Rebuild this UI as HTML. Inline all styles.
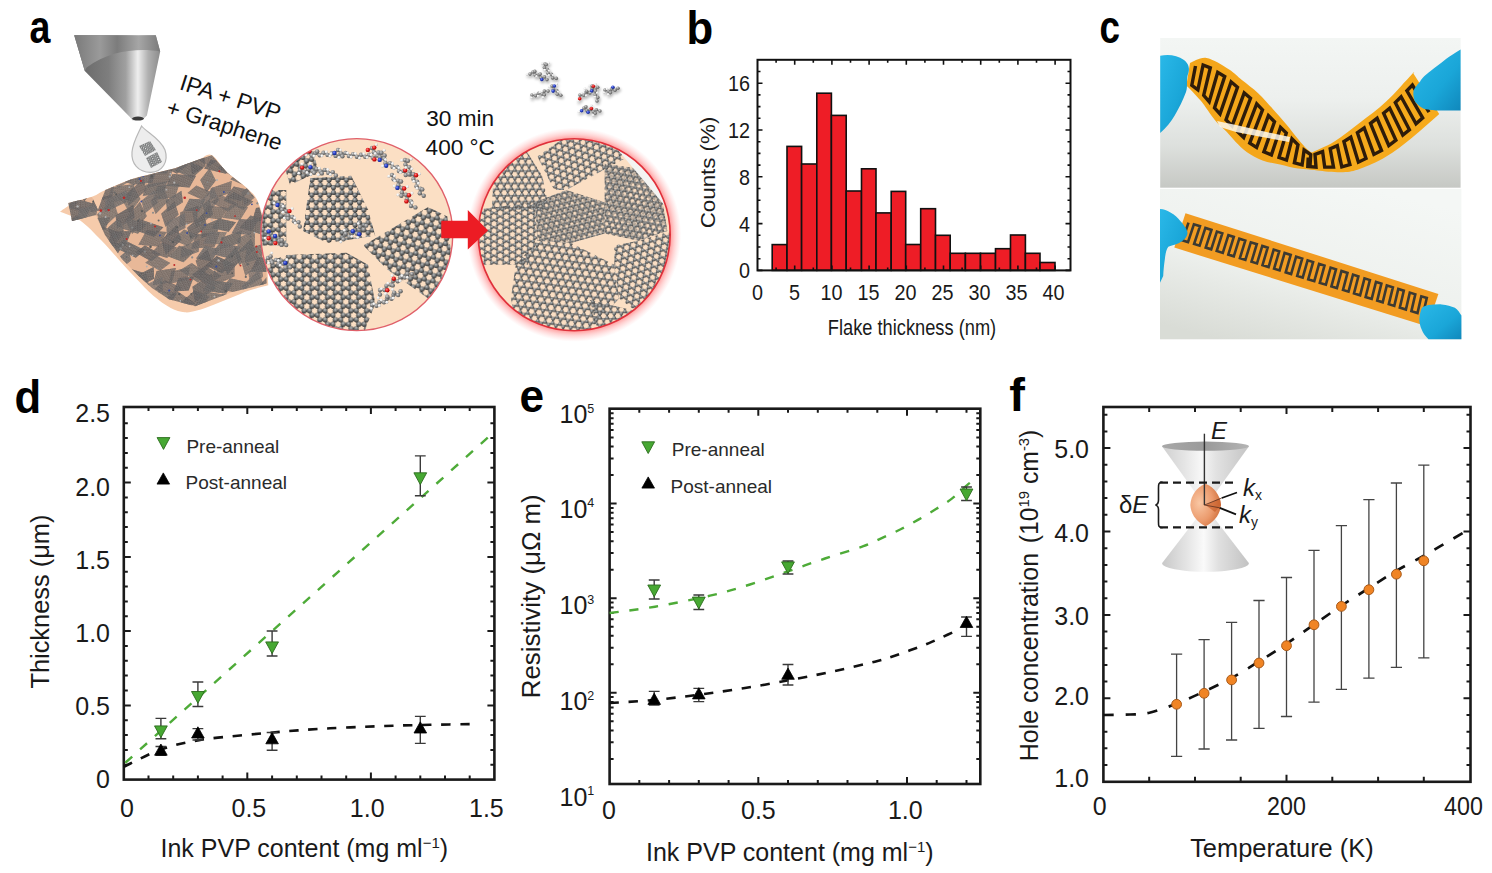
<!DOCTYPE html>
<html><head><meta charset="utf-8"><style>
html,body{margin:0;padding:0;background:#fff;}
svg{display:block;}
text{font-family:"Liberation Sans",sans-serif;}
</style></head><body>
<svg width="1492" height="873" viewBox="0 0 1492 873" font-family="Liberation Sans, sans-serif">
<rect width="1492" height="873" fill="#fff"/>
<rect x="772.2" y="244.6" width="14.8" height="25.8" fill="#ee1d26" stroke="#111" stroke-width="1.6"/>
<rect x="787.0" y="146.4" width="14.6" height="124.0" fill="#ee1d26" stroke="#111" stroke-width="1.6"/>
<rect x="801.6" y="164.0" width="15.2" height="106.4" fill="#ee1d26" stroke="#111" stroke-width="1.6"/>
<rect x="816.8" y="93.2" width="14.6" height="177.2" fill="#ee1d26" stroke="#111" stroke-width="1.6"/>
<rect x="831.4" y="115.4" width="14.8" height="155.0" fill="#ee1d26" stroke="#111" stroke-width="1.6"/>
<rect x="846.2" y="191.0" width="15.3" height="79.4" fill="#ee1d26" stroke="#111" stroke-width="1.6"/>
<rect x="861.5" y="168.8" width="14.5" height="101.6" fill="#ee1d26" stroke="#111" stroke-width="1.6"/>
<rect x="876.0" y="212.9" width="15.2" height="57.5" fill="#ee1d26" stroke="#111" stroke-width="1.6"/>
<rect x="891.2" y="191.4" width="14.5" height="79.0" fill="#ee1d26" stroke="#111" stroke-width="1.6"/>
<rect x="905.7" y="244.5" width="15.0" height="25.9" fill="#ee1d26" stroke="#111" stroke-width="1.6"/>
<rect x="920.7" y="208.7" width="14.8" height="61.7" fill="#ee1d26" stroke="#111" stroke-width="1.6"/>
<rect x="935.5" y="235.3" width="14.7" height="35.1" fill="#ee1d26" stroke="#111" stroke-width="1.6"/>
<rect x="950.2" y="253.3" width="15.2" height="17.1" fill="#ee1d26" stroke="#111" stroke-width="1.6"/>
<rect x="965.4" y="253.3" width="15.1" height="17.1" fill="#ee1d26" stroke="#111" stroke-width="1.6"/>
<rect x="980.5" y="253.3" width="15.0" height="17.1" fill="#ee1d26" stroke="#111" stroke-width="1.6"/>
<rect x="995.5" y="248.7" width="15.0" height="21.7" fill="#ee1d26" stroke="#111" stroke-width="1.6"/>
<rect x="1010.5" y="235.0" width="14.9" height="35.4" fill="#ee1d26" stroke="#111" stroke-width="1.6"/>
<rect x="1025.4" y="253.3" width="14.6" height="17.1" fill="#ee1d26" stroke="#111" stroke-width="1.6"/>
<rect x="1040.0" y="262.5" width="15.0" height="7.9" fill="#ee1d26" stroke="#111" stroke-width="1.6"/>
<path d="M757.5 270.4h5M1070.5 270.4h-5M757.5 258.7h3M1070.5 258.7h-3M757.5 247.0h3M1070.5 247.0h-3M757.5 235.3h3M1070.5 235.3h-3M757.5 223.6h5M1070.5 223.6h-5M757.5 211.9h3M1070.5 211.9h-3M757.5 200.2h3M1070.5 200.2h-3M757.5 188.5h3M1070.5 188.5h-3M757.5 176.8h5M1070.5 176.8h-5M757.5 165.1h3M1070.5 165.1h-3M757.5 153.4h3M1070.5 153.4h-3M757.5 141.7h3M1070.5 141.7h-3M757.5 130.0h5M1070.5 130.0h-5M757.5 118.3h3M1070.5 118.3h-3M757.5 106.6h3M1070.5 106.6h-3M757.5 94.9h3M1070.5 94.9h-3M757.5 83.2h5M1070.5 83.2h-5M757.5 71.5h3M1070.5 71.5h-3M776.1 270.4v-3M776.1 59.8v3M794.7 270.4v-5M794.7 59.8v5M813.3 270.4v-3M813.3 59.8v3M831.9 270.4v-5M831.9 59.8v5M850.5 270.4v-3M850.5 59.8v3M869.1 270.4v-5M869.1 59.8v5M887.7 270.4v-3M887.7 59.8v3M906.3 270.4v-5M906.3 59.8v5M924.9 270.4v-3M924.9 59.8v3M943.5 270.4v-5M943.5 59.8v5M962.1 270.4v-3M962.1 59.8v3M980.7 270.4v-5M980.7 59.8v5M999.3 270.4v-3M999.3 59.8v3M1017.9 270.4v-5M1017.9 59.8v5M1036.5 270.4v-3M1036.5 59.8v3M1055.1 270.4v-5M1055.1 59.8v5" stroke="#111" stroke-width="1.6" fill="none"/>
<rect x="757.5" y="59.8" width="313.0" height="210.59999999999997" fill="none" stroke="#111" stroke-width="2"/>
<text transform="translate(750,278.3) scale(0.9,1)" font-size="22" text-anchor="end" fill="#1a1a1a">0</text>
<text transform="translate(750,231.5) scale(0.9,1)" font-size="22" text-anchor="end" fill="#1a1a1a">4</text>
<text transform="translate(750,184.7) scale(0.9,1)" font-size="22" text-anchor="end" fill="#1a1a1a">8</text>
<text transform="translate(750,137.9) scale(0.9,1)" font-size="22" text-anchor="end" fill="#1a1a1a">12</text>
<text transform="translate(750,91.1) scale(0.9,1)" font-size="22" text-anchor="end" fill="#1a1a1a">16</text>
<text transform="translate(757.5,300.2) scale(0.9,1)" font-size="22" text-anchor="middle" fill="#1a1a1a">0</text>
<text transform="translate(794.5,300.2) scale(0.9,1)" font-size="22" text-anchor="middle" fill="#1a1a1a">5</text>
<text transform="translate(831.5,300.2) scale(0.9,1)" font-size="22" text-anchor="middle" fill="#1a1a1a">10</text>
<text transform="translate(868.5,300.2) scale(0.9,1)" font-size="22" text-anchor="middle" fill="#1a1a1a">15</text>
<text transform="translate(905.5,300.2) scale(0.9,1)" font-size="22" text-anchor="middle" fill="#1a1a1a">20</text>
<text transform="translate(942.5,300.2) scale(0.9,1)" font-size="22" text-anchor="middle" fill="#1a1a1a">25</text>
<text transform="translate(979.5,300.2) scale(0.9,1)" font-size="22" text-anchor="middle" fill="#1a1a1a">30</text>
<text transform="translate(1016.5,300.2) scale(0.9,1)" font-size="22" text-anchor="middle" fill="#1a1a1a">35</text>
<text transform="translate(1053.5,300.2) scale(0.9,1)" font-size="22" text-anchor="middle" fill="#1a1a1a">40</text>
<text transform="translate(912,334.5) scale(0.83,1)" font-size="22" text-anchor="middle" fill="#1a1a1a">Flake thickness (nm)</text>
<text transform="translate(714.6,172.5) rotate(-90) scale(1.145,1)" font-size="19.5" text-anchor="middle" fill="#1a1a1a">Counts (%)</text>
<path d="M123.8 764.8h4M494.4 764.8h-4M123.8 749.9h4M494.4 749.9h-4M123.8 735.1h4M494.4 735.1h-4M123.8 720.2h4M494.4 720.2h-4M123.8 705.4h7M494.4 705.4h-7M123.8 690.5h4M494.4 690.5h-4M123.8 675.6h4M494.4 675.6h-4M123.8 660.8h4M494.4 660.8h-4M123.8 646.0h4M494.4 646.0h-4M123.8 631.1h7M494.4 631.1h-7M123.8 616.2h4M494.4 616.2h-4M123.8 601.4h4M494.4 601.4h-4M123.8 586.5h4M494.4 586.5h-4M123.8 571.7h4M494.4 571.7h-4M123.8 556.9h7M494.4 556.9h-7M123.8 542.0h4M494.4 542.0h-4M123.8 527.1h4M494.4 527.1h-4M123.8 512.3h4M494.4 512.3h-4M123.8 497.4h4M494.4 497.4h-4M123.8 482.6h7M494.4 482.6h-7M123.8 467.8h4M494.4 467.8h-4M123.8 452.9h4M494.4 452.9h-4M123.8 438.1h4M494.4 438.1h-4M123.8 423.2h4M494.4 423.2h-4M148.5 779.6v-4M148.5 407.0v4M173.2 779.6v-4M173.2 407.0v4M197.9 779.6v-4M197.9 407.0v4M222.6 779.6v-4M222.6 407.0v4M247.3 779.6v-7M247.3 407.0v7M272.1 779.6v-4M272.1 407.0v4M296.8 779.6v-4M296.8 407.0v4M321.5 779.6v-4M321.5 407.0v4M346.2 779.6v-4M346.2 407.0v4M370.9 779.6v-7M370.9 407.0v7M395.6 779.6v-4M395.6 407.0v4M420.3 779.6v-4M420.3 407.0v4M445.0 779.6v-4M445.0 407.0v4M469.7 779.6v-4M469.7 407.0v4" stroke="#1a1a1a" stroke-width="2" fill="none"/>
<rect x="123.8" y="407.0" width="370.6" height="372.6" fill="none" stroke="#1a1a1a" stroke-width="2.6"/>
<text x="110.0" y="788.2" font-size="25" text-anchor="end" fill="#1a1a1a" >0</text>
<text x="110.0" y="715.1" font-size="25" text-anchor="end" fill="#1a1a1a" >0.5</text>
<text x="110.0" y="641.9" font-size="25" text-anchor="end" fill="#1a1a1a" >1.0</text>
<text x="110.0" y="568.7" font-size="25" text-anchor="end" fill="#1a1a1a" >1.5</text>
<text x="110.0" y="495.5" font-size="25" text-anchor="end" fill="#1a1a1a" >2.0</text>
<text x="110.0" y="422.4" font-size="25" text-anchor="end" fill="#1a1a1a" >2.5</text>
<text x="127.0" y="816.8" font-size="25" text-anchor="middle" fill="#1a1a1a" >0</text>
<text x="248.9" y="816.8" font-size="25" text-anchor="middle" fill="#1a1a1a" >0.5</text>
<text x="367.2" y="816.8" font-size="25" text-anchor="middle" fill="#1a1a1a" >1.0</text>
<text x="486.4" y="816.8" font-size="25" text-anchor="middle" fill="#1a1a1a" >1.5</text>
<text x="160.5" y="856.8" font-size="25" fill="#1a1a1a">Ink PVP content (mg ml<tspan font-size="15" dy="-9">−1</tspan><tspan dy="9">)</tspan></text>
<text transform="translate(49,601.6) rotate(-90)" font-size="25.4" text-anchor="middle" fill="#1a1a1a">Thickness (μm)</text>
<path d="M157.1 437.6L169.9 437.6L163.5 449.4Z" fill="#47a833" stroke="#2a6b1c" stroke-width="0.9" stroke-linejoin="round"/>
<text x="186.4" y="452.8" font-size="19" text-anchor="start" fill="#2a2a2a" >Pre-anneal</text>
<path d="M157.0 484.1L169.6 484.1L163.3 472.9Z" fill="#000" stroke="#000" stroke-width="0.8" stroke-linejoin="round"/>
<text x="185.6" y="489.1" font-size="19" text-anchor="start" fill="#2a2a2a" >Post-anneal</text>
<path d="M123.8 764.1L494.4 431.7" stroke="#4eab38" stroke-width="2.4" stroke-dasharray="9.3 10.6" stroke-dashoffset="-2" fill="none"/>
<path d="M123.8 766.8C130.0 763.9 148.3 754.0 160.8 749.5C173.3 745.0 185.8 742.4 199.0 740.1C212.2 737.8 227.7 736.8 240.0 735.5C252.3 734.2 263.2 733.4 272.8 732.5C282.4 731.6 288.4 731.1 297.9 730.4C307.4 729.7 317.2 729.0 330.0 728.3C342.8 727.6 364.1 726.8 374.7 726.4C385.2 726.0 384.1 726.0 393.3 725.7C402.5 725.4 416.2 725.1 430.0 724.8C443.8 724.5 468.3 724.1 476.0 724.0" stroke="#111" stroke-width="2.6" stroke-dasharray="9.4 9.6" fill="none"/>
<path d="M160.9 718.4V738.8M155.5 718.4h10.8M155.5 738.8h10.8" stroke="#3a3a3a" stroke-width="1.4" fill="none"/>
<path d="M154.5 725.9L167.3 725.9L160.9 737.6Z" fill="#47a833" stroke="#2a6b1c" stroke-width="0.9" stroke-linejoin="round"/>
<path d="M197.9 682.0V706.5M192.5 682.0h10.8M192.5 706.5h10.8" stroke="#3a3a3a" stroke-width="1.4" fill="none"/>
<path d="M191.5 691.5L204.3 691.5L197.9 703.2Z" fill="#47a833" stroke="#2a6b1c" stroke-width="0.9" stroke-linejoin="round"/>
<path d="M272.1 631.0V656.0M266.7 631.0h10.8M266.7 656.0h10.8" stroke="#3a3a3a" stroke-width="1.4" fill="none"/>
<path d="M265.7 641.9L278.5 641.9L272.1 653.6Z" fill="#47a833" stroke="#2a6b1c" stroke-width="0.9" stroke-linejoin="round"/>
<path d="M420.3 455.9V495.8M414.9 455.9h10.8M414.9 495.8h10.8" stroke="#3a3a3a" stroke-width="1.4" fill="none"/>
<path d="M413.9 472.8L426.7 472.8L420.3 484.6Z" fill="#47a833" stroke="#2a6b1c" stroke-width="0.9" stroke-linejoin="round"/>
<path d="M160.9 746.5V755.4M155.5 746.5h10.8M155.5 755.4h10.8" stroke="#3a3a3a" stroke-width="1.4" fill="none"/>
<path d="M154.6 755.2L167.2 755.2L160.9 744.0Z" fill="#000" stroke="#000" stroke-width="0.8" stroke-linejoin="round"/>
<path d="M197.9 728.6V740.0M192.5 728.6h10.8M192.5 740.0h10.8" stroke="#3a3a3a" stroke-width="1.4" fill="none"/>
<path d="M191.6 738.0L204.2 738.0L197.9 726.8Z" fill="#000" stroke="#000" stroke-width="0.8" stroke-linejoin="round"/>
<path d="M272.1 732.5V750.3M266.7 732.5h10.8M266.7 750.3h10.8" stroke="#3a3a3a" stroke-width="1.4" fill="none"/>
<path d="M265.8 743.8L278.4 743.8L272.1 732.6Z" fill="#000" stroke="#000" stroke-width="0.8" stroke-linejoin="round"/>
<path d="M420.3 716.4V743.4M414.9 716.4h10.8M414.9 743.4h10.8" stroke="#3a3a3a" stroke-width="1.4" fill="none"/>
<path d="M414.0 733.0L426.6 733.0L420.3 721.8Z" fill="#000" stroke="#000" stroke-width="0.8" stroke-linejoin="round"/>
<path d="M609.6 758.9h4M980.3 758.9h-4M609.6 742.3h4M980.3 742.3h-4M609.6 730.4h4M980.3 730.4h-4M609.6 721.3h4M980.3 721.3h-4M609.6 713.8h4M980.3 713.8h-4M609.6 707.5h4M980.3 707.5h-4M609.6 702.0h4M980.3 702.0h-4M609.6 697.1h4M980.3 697.1h-4M609.6 692.8h7M980.3 692.8h-7M609.6 664.3h4M980.3 664.3h-4M609.6 647.7h4M980.3 647.7h-4M609.6 635.8h4M980.3 635.8h-4M609.6 626.7h4M980.3 626.7h-4M609.6 619.2h4M980.3 619.2h-4M609.6 612.9h4M980.3 612.9h-4M609.6 607.4h4M980.3 607.4h-4M609.6 602.5h4M980.3 602.5h-4M609.6 598.2h7M980.3 598.2h-7M609.6 569.7h4M980.3 569.7h-4M609.6 553.1h4M980.3 553.1h-4M609.6 541.2h4M980.3 541.2h-4M609.6 532.1h4M980.3 532.1h-4M609.6 524.6h4M980.3 524.6h-4M609.6 518.3h4M980.3 518.3h-4M609.6 512.8h4M980.3 512.8h-4M609.6 507.9h4M980.3 507.9h-4M609.6 503.6h7M980.3 503.6h-7M609.6 475.1h4M980.3 475.1h-4M609.6 458.5h4M980.3 458.5h-4M609.6 446.6h4M980.3 446.6h-4M609.6 437.5h4M980.3 437.5h-4M609.6 430.0h4M980.3 430.0h-4M609.6 423.7h4M980.3 423.7h-4M609.6 418.2h4M980.3 418.2h-4M609.6 413.3h4M980.3 413.3h-4M639.3 784.0v-4M639.3 408.7v4M669.1 784.0v-4M669.1 408.7v4M698.8 784.0v-4M698.8 408.7v4M728.6 784.0v-4M728.6 408.7v4M758.3 784.0v-7M758.3 408.7v7M788.0 784.0v-4M788.0 408.7v4M817.8 784.0v-4M817.8 408.7v4M847.5 784.0v-4M847.5 408.7v4M877.3 784.0v-4M877.3 408.7v4M907.0 784.0v-7M907.0 408.7v7M936.7 784.0v-4M936.7 408.7v4M966.5 784.0v-4M966.5 408.7v4" stroke="#1a1a1a" stroke-width="2" fill="none"/>
<rect x="609.6" y="408.7" width="370.7" height="375.3" fill="none" stroke="#1a1a1a" stroke-width="2.6"/>
<text x="559.5" y="423.1" font-size="25" fill="#1a1a1a">10<tspan font-size="12.5" dy="-10.5">5</tspan></text>
<text x="559.5" y="517.9" font-size="25" fill="#1a1a1a">10<tspan font-size="12.5" dy="-10.5">4</tspan></text>
<text x="559.5" y="614.1" font-size="25" fill="#1a1a1a">10<tspan font-size="12.5" dy="-10.5">3</tspan></text>
<text x="559.5" y="710.1" font-size="25" fill="#1a1a1a">10<tspan font-size="12.5" dy="-10.5">2</tspan></text>
<text x="559.5" y="805.9" font-size="25" fill="#1a1a1a">10<tspan font-size="12.5" dy="-10.5">1</tspan></text>
<text x="608.9" y="818.5" font-size="25" text-anchor="middle" fill="#1a1a1a" >0</text>
<text x="758.4" y="818.5" font-size="25" text-anchor="middle" fill="#1a1a1a" >0.5</text>
<text x="905.3" y="818.5" font-size="25" text-anchor="middle" fill="#1a1a1a" >1.0</text>
<text x="646" y="860.6" font-size="25" fill="#1a1a1a">Ink PVP content (mg ml<tspan font-size="15" dy="-9">−1</tspan><tspan dy="9">)</tspan></text>
<text transform="translate(539.7,596.3) rotate(-90)" font-size="25.9" text-anchor="middle" fill="#1a1a1a">Resistivity (μΩ m)</text>
<path d="M641.8 441.8L654.6 441.8L648.2 453.5Z" fill="#47a833" stroke="#2a6b1c" stroke-width="0.9" stroke-linejoin="round"/>
<text x="671.8" y="456.0" font-size="19" text-anchor="start" fill="#2a2a2a" >Pre-anneal</text>
<path d="M641.9 488.1L654.5 488.1L648.2 476.9Z" fill="#000" stroke="#000" stroke-width="0.8" stroke-linejoin="round"/>
<text x="670.6" y="492.7" font-size="19" text-anchor="start" fill="#2a2a2a" >Post-anneal</text>
<path d="M609.6 613.0C617.2 612.0 638.3 609.6 655.0 606.7C671.7 603.8 694.2 599.4 710.0 595.7C725.8 592.0 737.0 588.5 750.0 584.5C763.0 580.5 775.3 575.7 787.8 571.4C800.3 567.1 812.4 562.7 825.0 558.5C837.6 554.3 853.9 549.6 863.4 546.2C872.9 542.8 876.1 540.7 882.3 537.9C888.5 535.1 894.6 532.3 900.6 529.3C906.6 526.2 912.6 522.9 918.4 519.6C924.2 516.3 930.0 512.8 935.6 509.3C941.2 505.8 946.9 502.5 952.2 498.4C957.6 494.3 963.8 487.8 967.7 484.6C971.6 481.4 974.2 479.9 975.5 479.0" stroke="#4eab38" stroke-width="2.4" stroke-dasharray="9.3 10.6" fill="none"/>
<path d="M609.6 703.0C617.0 702.5 639.1 701.4 654.0 700.0C668.9 698.6 683.8 696.7 699.0 694.7C714.2 692.7 729.4 690.5 745.0 688.0C760.6 685.5 777.4 682.4 792.4 679.6C807.4 676.8 821.2 674.0 835.0 671.0C848.8 668.0 865.6 664.0 874.9 661.7C884.2 659.4 885.1 658.9 891.0 657.0C896.9 655.1 903.7 652.6 910.0 650.3C916.3 648.0 922.8 645.7 929.0 643.1C935.2 640.5 943.0 636.9 947.5 634.8C952.0 632.7 954.6 631.4 956.0 630.7" stroke="#111" stroke-width="2.6" stroke-dasharray="9.4 9.6" fill="none"/>
<path d="M654.2 580.0V599.0M648.8 580.0h10.8M648.8 599.0h10.8" stroke="#3a3a3a" stroke-width="1.4" fill="none"/>
<path d="M647.8 585.0L660.6 585.0L654.2 596.8Z" fill="#47a833" stroke="#2a6b1c" stroke-width="0.9" stroke-linejoin="round"/>
<path d="M698.8 595.0V609.5M693.4 595.0h10.8M693.4 609.5h10.8" stroke="#3a3a3a" stroke-width="1.4" fill="none"/>
<path d="M692.4 597.1L705.2 597.1L698.8 608.9Z" fill="#47a833" stroke="#2a6b1c" stroke-width="0.9" stroke-linejoin="round"/>
<path d="M788.0 561.0V574.0M782.6 561.0h10.8M782.6 574.0h10.8" stroke="#3a3a3a" stroke-width="1.4" fill="none"/>
<path d="M781.6 561.9L794.4 561.9L788.0 573.6Z" fill="#47a833" stroke="#2a6b1c" stroke-width="0.9" stroke-linejoin="round"/>
<path d="M966.5 487.0V500.5M961.1 487.0h10.8M961.1 500.5h10.8" stroke="#3a3a3a" stroke-width="1.4" fill="none"/>
<path d="M960.1 489.0L972.9 489.0L966.5 500.8Z" fill="#47a833" stroke="#2a6b1c" stroke-width="0.9" stroke-linejoin="round"/>
<path d="M654.2 691.4V705.0M648.8 691.4h10.8M648.8 705.0h10.8" stroke="#3a3a3a" stroke-width="1.4" fill="none"/>
<path d="M647.9 704.4L660.5 704.4L654.2 693.2Z" fill="#000" stroke="#000" stroke-width="0.8" stroke-linejoin="round"/>
<path d="M698.8 688.4V701.6M693.4 688.4h10.8M693.4 701.6h10.8" stroke="#3a3a3a" stroke-width="1.4" fill="none"/>
<path d="M692.5 698.9L705.1 698.9L698.8 687.7Z" fill="#000" stroke="#000" stroke-width="0.8" stroke-linejoin="round"/>
<path d="M788.0 664.5V685.0M782.6 664.5h10.8M782.6 685.0h10.8" stroke="#3a3a3a" stroke-width="1.4" fill="none"/>
<path d="M781.7 679.3L794.3 679.3L788.0 668.1Z" fill="#000" stroke="#000" stroke-width="0.8" stroke-linejoin="round"/>
<path d="M966.5 617.0V636.4M961.1 617.0h10.8M961.1 636.4h10.8" stroke="#3a3a3a" stroke-width="1.4" fill="none"/>
<path d="M960.2 627.5L972.8 627.5L966.5 616.3Z" fill="#000" stroke="#000" stroke-width="0.8" stroke-linejoin="round"/>
<path d="M1103.4 765.0h4M1470.5 765.0h-4M1103.4 748.3h4M1470.5 748.3h-4M1103.4 731.7h4M1470.5 731.7h-4M1103.4 715.0h4M1470.5 715.0h-4M1103.4 698.3h7M1470.5 698.3h-7M1103.4 681.6h4M1470.5 681.6h-4M1103.4 664.9h4M1470.5 664.9h-4M1103.4 648.3h4M1470.5 648.3h-4M1103.4 631.6h4M1470.5 631.6h-4M1103.4 614.9h7M1470.5 614.9h-7M1103.4 598.2h4M1470.5 598.2h-4M1103.4 581.5h4M1470.5 581.5h-4M1103.4 564.9h4M1470.5 564.9h-4M1103.4 548.2h4M1470.5 548.2h-4M1103.4 531.5h7M1470.5 531.5h-7M1103.4 514.8h4M1470.5 514.8h-4M1103.4 498.1h4M1470.5 498.1h-4M1103.4 481.5h4M1470.5 481.5h-4M1103.4 464.8h4M1470.5 464.8h-4M1103.4 448.1h7M1470.5 448.1h-7M1103.4 431.4h4M1470.5 431.4h-4M1103.4 414.7h4M1470.5 414.7h-4M1149.2 781.8v-5M1149.2 407.0v5M1195.0 781.8v-5M1195.0 407.0v5M1240.7 781.8v-5M1240.7 407.0v5M1286.5 781.8v-7M1286.5 407.0v7M1332.3 781.8v-5M1332.3 407.0v5M1378.1 781.8v-5M1378.1 407.0v5M1423.8 781.8v-5M1423.8 407.0v5" stroke="#1a1a1a" stroke-width="2" fill="none"/>
<rect x="1103.4" y="407.0" width="367.1" height="374.8" fill="none" stroke="#1a1a1a" stroke-width="2.6"/>
<text x="1089.0" y="787.3" font-size="25" text-anchor="end" fill="#1a1a1a" >1.0</text>
<text x="1089.0" y="704.9" font-size="25" text-anchor="end" fill="#1a1a1a" >2.0</text>
<text x="1089.0" y="624.6" font-size="25" text-anchor="end" fill="#1a1a1a" >3.0</text>
<text x="1089.0" y="541.6" font-size="25" text-anchor="end" fill="#1a1a1a" >4.0</text>
<text x="1089.0" y="458.4" font-size="25" text-anchor="end" fill="#1a1a1a" >5.0</text>
<text transform="translate(1099.6,815) scale(1,1)" font-size="25" text-anchor="middle" fill="#1a1a1a">0</text>
<text transform="translate(1286.5,815) scale(0.93,1)" font-size="25" text-anchor="middle" fill="#1a1a1a">200</text>
<text transform="translate(1463.5,815) scale(0.93,1)" font-size="25" text-anchor="middle" fill="#1a1a1a">400</text>
<text x="1281.9" y="857.0" font-size="25.4" text-anchor="middle" fill="#1a1a1a" >Temperature (K)</text>
<text transform="translate(1038,761.3) rotate(-90)" font-size="25" fill="#1a1a1a">Hole concentration</text>
<text transform="translate(1038,543.2) rotate(-90) scale(0.99,1)" font-size="25" fill="#1a1a1a">(10<tspan font-size="15" dy="-9.5">19</tspan><tspan dy="9.5"> cm</tspan><tspan font-size="15" dy="-9.5">-3</tspan><tspan dy="9.5">)</tspan></text>
<path d="M1103.4 715.0C1107.8 714.9 1122.3 714.9 1130.0 714.5C1137.7 714.1 1141.8 714.5 1149.5 712.7C1157.2 710.9 1167.4 707.2 1176.3 703.7C1185.2 700.2 1194.1 696.2 1203.1 692.0C1212.1 687.8 1221.3 683.5 1230.5 678.5C1239.7 673.5 1249.0 667.7 1258.2 662.0C1267.4 656.3 1276.4 650.7 1285.6 644.5C1294.8 638.3 1304.1 631.4 1313.3 625.0C1322.5 618.6 1331.8 612.1 1341.0 606.0C1350.2 599.9 1359.2 594.3 1368.4 588.5C1377.6 582.7 1386.8 576.4 1396.0 571.0C1405.2 565.6 1415.1 560.7 1423.4 556.0C1431.7 551.3 1438.5 547.2 1445.8 543.0C1453.1 538.8 1463.5 532.6 1467.0 530.5" stroke="#111" stroke-width="2.7" stroke-dasharray="10.4 11.7" fill="none"/>
<path d="M1176.6 654.1V756.4M1171.0 654.1h11.2M1171.0 756.4h11.2" stroke="#444" stroke-width="1.3" fill="none"/>
<path d="M1204.1 639.7V749.0M1198.5 639.7h11.2M1198.5 749.0h11.2" stroke="#444" stroke-width="1.3" fill="none"/>
<path d="M1231.6 622.4V740.0M1226.0 622.4h11.2M1226.0 740.0h11.2" stroke="#444" stroke-width="1.3" fill="none"/>
<path d="M1259.0 600.5V728.4M1253.4 600.5h11.2M1253.4 728.4h11.2" stroke="#444" stroke-width="1.3" fill="none"/>
<path d="M1286.5 577.5V716.5M1280.9 577.5h11.2M1280.9 716.5h11.2" stroke="#444" stroke-width="1.3" fill="none"/>
<path d="M1314.0 550.4V702.2M1308.4 550.4h11.2M1308.4 702.2h11.2" stroke="#444" stroke-width="1.3" fill="none"/>
<path d="M1341.4 525.6V689.4M1335.8 525.6h11.2M1335.8 689.4h11.2" stroke="#444" stroke-width="1.3" fill="none"/>
<path d="M1368.9 499.7V678.1M1363.3 499.7h11.2M1363.3 678.1h11.2" stroke="#444" stroke-width="1.3" fill="none"/>
<path d="M1396.4 483.0V667.4M1390.8 483.0h11.2M1390.8 667.4h11.2" stroke="#444" stroke-width="1.3" fill="none"/>
<path d="M1423.8 465.1V657.9M1418.2 465.1h11.2M1418.2 657.9h11.2" stroke="#444" stroke-width="1.3" fill="none"/>
<circle cx="1176.6" cy="704.3" r="4.9" fill="#f08424" stroke="#a85a1a" stroke-width="1"/>
<circle cx="1204.1" cy="693.3" r="4.9" fill="#f08424" stroke="#a85a1a" stroke-width="1"/>
<circle cx="1231.6" cy="679.9" r="4.9" fill="#f08424" stroke="#a85a1a" stroke-width="1"/>
<circle cx="1259.0" cy="663.0" r="4.9" fill="#f08424" stroke="#a85a1a" stroke-width="1"/>
<circle cx="1286.5" cy="645.7" r="4.9" fill="#f08424" stroke="#a85a1a" stroke-width="1"/>
<circle cx="1314.0" cy="624.8" r="4.9" fill="#f08424" stroke="#a85a1a" stroke-width="1"/>
<circle cx="1341.4" cy="606.4" r="4.9" fill="#f08424" stroke="#a85a1a" stroke-width="1"/>
<circle cx="1368.9" cy="589.7" r="4.9" fill="#f08424" stroke="#a85a1a" stroke-width="1"/>
<circle cx="1396.4" cy="574.2" r="4.9" fill="#f08424" stroke="#a85a1a" stroke-width="1"/>
<circle cx="1423.8" cy="560.8" r="4.9" fill="#f08424" stroke="#a85a1a" stroke-width="1"/>
<defs>
<linearGradient id="cone" x1="0" y1="0" x2="1" y2="0">
<stop offset="0" stop-color="#cfcfcf"/><stop offset="0.25" stop-color="#e4e4e4"/><stop offset="0.45" stop-color="#f7f7f7"/><stop offset="0.62" stop-color="#e2e2e2"/><stop offset="0.85" stop-color="#d0d0d0"/><stop offset="1" stop-color="#c4c4c4"/></linearGradient>
<linearGradient id="cone2" x1="0" y1="0" x2="1" y2="0">
<stop offset="0" stop-color="#c8c8c8"/><stop offset="0.3" stop-color="#e6e6e6"/><stop offset="0.48" stop-color="#fafafa"/><stop offset="0.65" stop-color="#e0e0e0"/><stop offset="1" stop-color="#c2c2c2"/></linearGradient>
<linearGradient id="topell" x1="0" y1="0" x2="1" y2="0">
<stop offset="0" stop-color="#a8a8a8"/><stop offset="0.5" stop-color="#9a9a9a"/><stop offset="1" stop-color="#b4b4b4"/></linearGradient>
<radialGradient id="blob" cx="0.3" cy="0.45" r="0.8">
<stop offset="0" stop-color="#f9c7a4"/><stop offset="0.55" stop-color="#eb9a6c"/><stop offset="1" stop-color="#c8632e"/></radialGradient>
</defs>
<path d="M1205.5 506.7L1249.0 563.3A43.5 8.5 0 0 1 1162.0 563.3Z" fill="url(#cone2)"/>
<path d="M1162.0 446.2L1205.5 506.7L1249.0 446.2Z" fill="url(#cone)"/>
<ellipse cx="1205.5" cy="446.2" rx="43.5" ry="4.6" fill="url(#topell)"/>
<path d="M1205.5 483.8C1214 487 1220 495 1221 505C1220 515 1214 522 1205.5 526.3C1197 522 1191 515 1190.3 505C1191 495 1197 487 1205.5 483.8Z" fill="url(#blob)"/>
<path d="M1205.5 505L1220 498L1221 505L1215 512Z" fill="#c55a25" opacity="0.6"/>
<path d="M1204.4 433.7V505" stroke="#333" stroke-width="1.4"/>
<path d="M1204.4 505L1221.8 498M1204.4 505L1219.7 507.8" stroke="#5a3020" stroke-width="0.8"/>
<path d="M1221.8 498L1237 492.5M1219.7 507.8L1236 514.3" stroke="#111" stroke-width="1.8"/>
<path d="M1160 482.7H1237M1160 527.4H1237" stroke="#1a1a1a" stroke-width="2.3" stroke-dasharray="8 5"/>
<path d="M1162.5 482C1158 482 1158.5 485 1158.5 490V500C1158.5 503 1157.5 504.5 1155.5 505C1157.5 505.5 1158.5 507 1158.5 510V520C1158.5 525 1158 527.8 1162.5 527.8" fill="none" stroke="#1a1a1a" stroke-width="1.6"/>
<text x="1119" y="512.6" font-size="24" fill="#1a1a1a">δ<tspan font-style="italic">E</tspan></text>
<text x="1211" y="439.2" font-size="24" font-style="italic" fill="#1a1a1a">E</text>
<text x="1243" y="495.8" font-size="24" font-style="italic" fill="#1a1a1a">k<tspan font-size="14" font-style="normal" dy="4">x</tspan></text>
<text x="1239" y="523" font-size="24" font-style="italic" fill="#1a1a1a">k<tspan font-size="14" font-style="normal" dy="4">y</tspan></text>
<defs>
<linearGradient id="cbg1" x1="0" y1="0" x2="0" y2="1">
<stop offset="0" stop-color="#f3f6f4"/><stop offset="0.4" stop-color="#edf0ee"/><stop offset="0.72" stop-color="#dde0dd"/><stop offset="1" stop-color="#c6c8c4"/></linearGradient>
<linearGradient id="cbg2" x1="0.7" y1="0" x2="0.2" y2="1">
<stop offset="0" stop-color="#f4f7f5"/><stop offset="0.55" stop-color="#eef1ee"/><stop offset="1" stop-color="#d9dcd6"/></linearGradient>
<linearGradient id="glove" x1="0" y1="0" x2="1" y2="1">
<stop offset="0" stop-color="#2ab8e8"/><stop offset="0.6" stop-color="#1aa6d8"/><stop offset="1" stop-color="#1088bc"/></linearGradient>
</defs>
<rect x="1160.2" y="38" width="300.4" height="149.7" fill="url(#cbg1)"/>
<path d="M1190.0 63.0C1192.7 62.2 1200.0 57.0 1206.4 58.0C1212.9 59.0 1222.8 65.5 1228.7 69.2C1234.6 72.9 1237.0 76.0 1241.9 80.0C1246.9 84.0 1253.2 88.6 1258.4 93.4C1263.6 98.2 1268.2 103.8 1272.8 108.9C1277.4 114.0 1281.8 119.0 1286.0 124.0C1290.2 129.0 1294.3 134.7 1298.0 139.0C1301.7 143.3 1304.7 147.2 1308.0 150.0C1311.3 152.8 1316.3 155.0 1318.0 156.0L1318.0 170.0C1314.7 169.8 1304.3 169.4 1298.0 168.5C1291.7 167.6 1285.9 165.8 1280.0 164.5C1274.1 163.2 1268.0 162.5 1262.5 160.4C1257.0 158.3 1251.5 155.3 1247.0 152.2C1242.5 149.1 1239.1 145.3 1235.7 141.9C1232.3 138.5 1229.9 135.1 1226.4 131.5C1223.0 127.9 1219.3 125.4 1215.0 120.2C1210.7 115.0 1205.4 106.4 1200.6 100.6C1195.8 94.8 1188.8 88.0 1186.4 85.5Z" fill="#f4a61a"/>
<path d="M1303.0 160.0C1304.2 158.9 1305.1 156.5 1310.3 153.4C1315.5 150.3 1326.1 146.6 1334.4 141.4C1342.7 136.2 1351.5 129.1 1360.1 122.5C1368.7 115.9 1377.3 109.8 1385.9 101.8C1394.5 93.8 1407.1 79.1 1411.7 74.4C1416.3 69.7 1413.1 73.7 1413.4 73.5L1439.2 113.9C1434.6 117.9 1420.6 130.8 1411.7 137.9C1402.8 145.1 1394.5 151.7 1385.9 156.8C1377.3 162.0 1367.2 166.2 1360.1 168.8C1352.9 171.4 1350.2 172.0 1343.0 172.3C1335.8 172.6 1324.4 171.5 1317.2 170.6C1310.0 169.7 1302.9 167.7 1300.0 167.1Z" fill="#f6aa1c"/>
<path d="M1195.5 66.0L1191.8 85.3L1197.9 89.9L1203.1 65.0L1210.3 67.9L1203.7 95.4L1209.2 101.8L1217.7 72.4L1224.7 76.6L1214.5 107.9L1220.0 114.0L1231.1 81.8L1237.5 87.2L1226.0 119.7L1232.1 125.9L1244.2 92.9L1250.5 98.3L1237.7 131.8L1243.7 137.5L1256.7 103.8L1262.5 109.9L1249.7 143.1L1256.6 147.5L1268.4 115.6L1274.5 121.8L1263.9 151.9L1271.4 154.9L1280.5 127.4L1286.3 133.0L1279.0 157.5L1286.5 160.1L1292.0 138.8L1298.0 144.7L1294.4 162.8L1302.1 164.9L1304.1 150.1L1310.7 154.7L1310.0 166.4" fill="none" stroke="#2e1c0a" stroke-width="3.4" stroke-linejoin="miter" opacity="1.0"/>
<path d="M1308.2 157.5L1307.8 166.4L1316.0 167.1L1315.0 154.4L1322.6 151.6L1324.7 167.1L1333.5 167.0L1330.2 148.7L1337.3 145.6L1341.8 166.8L1349.9 164.6L1343.9 141.5L1350.8 137.2L1358.4 162.2L1366.0 158.4L1357.4 132.7L1364.2 128.0L1373.9 154.4L1381.5 150.5L1370.5 123.4L1377.1 118.3L1388.8 145.5L1395.9 140.2L1383.6 113.2L1389.7 108.2L1402.8 135.1L1409.4 129.7L1395.3 102.6L1401.1 96.7L1416.0 123.8L1422.7 117.8L1406.9 90.8L1412.4 85.1L1429.0 112.1" fill="none" stroke="#2e1c0a" stroke-width="3.4" stroke-linejoin="miter" opacity="1.0"/>
<path d="M1217 121L1236 125L1262 131L1290 137L1289 142L1262 137L1236 132L1220 127Z" fill="#fbf8ee" opacity="0.85"/>
<path d="M1160.2 55.8C1168 54 1177 55 1184 60C1189 64 1190 69 1188 74C1186 80 1188 86 1186 92C1183 100 1179 108 1175 115C1171 122 1166 128 1160.2 133Z" fill="url(#glove)"/>
<path d="M1460.6 49.4C1455 53 1450 56 1446 58.9C1440 64 1435 67 1430.6 70.9C1425 75 1422 78 1420.3 81.2C1416 86 1414 89 1413.4 91.5C1413 96 1414 99 1415.1 101.8C1418 105 1420 107 1423.7 108.7C1430 110 1433 110.4 1437.4 110.4L1460.6 110.4Z" fill="url(#glove)"/>
<rect x="1160" y="188.9" width="301.4" height="150.4" fill="url(#cbg2)"/>
<path d="M1185.5 213.2L1438.4 293.9L1434.4 305.7L1426 326L1174.3 247.6Z" fill="#f29c22"/>
<path d="M1188.5 222.6L1182.5 240.4L1188.0 242.1L1193.9 224.3L1200.0 226.2L1194.1 244.0L1199.6 245.7L1205.4 227.9L1211.5 229.9L1205.7 247.6L1211.2 249.3L1216.9 231.6L1222.3 233.3L1216.7 251.0L1222.8 252.9L1228.4 235.2L1233.8 236.9L1228.3 254.6L1233.8 256.3L1239.3 238.7L1245.3 240.6L1239.9 258.1L1245.4 259.8L1250.8 242.3L1256.8 244.2L1251.5 261.7L1257.0 263.4L1262.3 245.9L1267.7 247.7L1262.5 265.1L1268.6 267.0L1273.7 249.6L1279.2 251.3L1274.1 268.7L1279.6 270.4L1284.6 253.0L1290.7 254.9L1285.7 272.3L1291.1 274.0L1296.1 256.7L1302.2 258.6L1297.2 275.9L1302.7 277.6L1307.6 260.3L1313.1 262.0L1308.2 279.3L1314.3 281.2L1319.1 263.9L1324.5 265.6L1319.8 282.9L1325.9 284.7L1330.6 267.6L1336.0 269.3L1331.4 286.4L1336.9 288.1L1341.5 271.0L1347.5 272.9L1343.0 290.0L1348.5 291.7L1353.0 274.6L1358.4 276.4L1354.0 293.4L1360.1 295.3L1364.5 278.3L1369.9 280.0L1365.6 297.0L1371.7 298.9L1376.0 281.9L1381.4 283.6L1377.2 300.6L1382.7 302.3L1386.8 285.4L1392.9 287.3L1388.8 304.2L1394.3 305.9L1398.3 289.0L1403.8 290.7L1399.8 307.6L1405.9 309.5L1409.8 292.6L1415.3 294.3L1411.4 311.2L1417.5 313.0L1421.3 296.3L1426.8 298.0L1422.9 314.7" fill="none" stroke="#3c3a32" stroke-width="2.6" stroke-linejoin="miter" opacity="1.0"/>
<path d="M1160 208.9C1164 209 1167 210.5 1170 212.3C1175 215 1178 218 1180.3 221C1184 225 1186 228 1187.2 231.2C1188 234 1187 236 1185.5 238.1C1183 241 1181 242 1178.6 243.3C1174 245 1171 246 1168.3 246.7C1166 250 1165.5 254 1164.9 258.7C1164 265 1163.5 270 1163.2 275.9L1160 282.8Z" fill="url(#glove)"/>
<path d="M1421.9 307.7C1424 306.5 1426 305.5 1428.5 305C1433 304.5 1437 304.3 1441.7 304.4C1447 305 1451 306 1454.9 307.7C1458 310 1460 313 1461.4 315.6V339.3H1428.5C1425 336 1423 333 1421.9 330.1C1420 326 1419.5 323 1419.3 319.5C1419.5 315 1420.5 311 1421.9 307.7Z" fill="url(#glove)"/>
<defs>
<radialGradient id="ball" cx="0.38" cy="0.35" r="0.7"><stop offset="0" stop-color="#c4c6c6"/><stop offset="0.45" stop-color="#7c7f80"/><stop offset="1" stop-color="#3a3a3a"/></radialGradient>
<radialGradient id="ball1" cx="0.4" cy="0.35" r="0.65"><stop offset="0" stop-color="#c0c2c2"/><stop offset="0.4" stop-color="#808384"/><stop offset="0.85" stop-color="#4a4c4c"/><stop offset="1" stop-color="#222"/></radialGradient>
<radialGradient id="cball" cx="0.38" cy="0.35" r="0.7"><stop offset="0" stop-color="#d0d0d0"/><stop offset="0.5" stop-color="#8a8a8a"/><stop offset="1" stop-color="#505050"/></radialGradient>
<radialGradient id="hball" cx="0.38" cy="0.35" r="0.7"><stop offset="0" stop-color="#ffffff"/><stop offset="0.6" stop-color="#e6e6e6"/><stop offset="1" stop-color="#a8a8a8"/></radialGradient>
<radialGradient id="oball" cx="0.38" cy="0.35" r="0.7"><stop offset="0" stop-color="#ff8080"/><stop offset="0.5" stop-color="#e01818"/><stop offset="1" stop-color="#900"/></radialGradient>
<radialGradient id="nball" cx="0.38" cy="0.35" r="0.7"><stop offset="0" stop-color="#8090ff"/><stop offset="0.5" stop-color="#2840c0"/><stop offset="1" stop-color="#102080"/></radialGradient>
<linearGradient id="noz" x1="0" y1="0" x2="1" y2="0"><stop offset="0" stop-color="#646464"/><stop offset="0.4" stop-color="#7e7e7e"/><stop offset="0.6" stop-color="#a0a0a0"/><stop offset="0.74" stop-color="#eeeeee"/><stop offset="0.86" stop-color="#b0b0b0"/><stop offset="1" stop-color="#8c8c8c"/></linearGradient>
<linearGradient id="noz2" x1="0" y1="0" x2="1" y2="0"><stop offset="0" stop-color="#7a7a7a"/><stop offset="0.3" stop-color="#9a9a9a"/><stop offset="0.5" stop-color="#7c7c7c"/><stop offset="0.75" stop-color="#a6a6a6"/><stop offset="1" stop-color="#7a7a7a"/></linearGradient>
<radialGradient id="glow" cx="0.5" cy="0.5" r="0.5"><stop offset="0.88" stop-color="#ff6a6a" stop-opacity="0.85"/><stop offset="0.94" stop-color="#ff9090" stop-opacity="0.4"/><stop offset="1" stop-color="#ffb0b0" stop-opacity="0"/></radialGradient>
<pattern id="g1" patternUnits="userSpaceOnUse" width="9.007" height="15.600" patternTransform="rotate(30)"><path d="M0 0V5.20L4.50 7.80V13.00L0 15.60M4.50 13.00L9.01 15.60M4.50 7.80L9.01 5.20V0" stroke="#444" stroke-width="2.34" fill="none"/><circle cx="0.00" cy="0.00" r="2.6" fill="url(#ball1)"/><circle cx="0.00" cy="5.20" r="2.6" fill="url(#ball1)"/><circle cx="4.50" cy="7.80" r="2.6" fill="url(#ball1)"/><circle cx="4.50" cy="13.00" r="2.6" fill="url(#ball1)"/><circle cx="9.01" cy="0.00" r="2.6" fill="url(#ball1)"/><circle cx="9.01" cy="5.20" r="2.6" fill="url(#ball1)"/><circle cx="0.00" cy="15.60" r="2.6" fill="url(#ball1)"/><circle cx="9.01" cy="15.60" r="2.6" fill="url(#ball1)"/></pattern>
<pattern id="g1b" patternUnits="userSpaceOnUse" width="8.660" height="15.000" patternTransform="rotate(0)"><path d="M0 0V5.00L4.33 7.50V12.50L0 15.00M4.33 12.50L8.66 15.00M4.33 7.50L8.66 5.00V0" stroke="#444" stroke-width="2.25" fill="none"/><circle cx="0.00" cy="0.00" r="2.5" fill="url(#ball1)"/><circle cx="0.00" cy="5.00" r="2.5" fill="url(#ball1)"/><circle cx="4.33" cy="7.50" r="2.5" fill="url(#ball1)"/><circle cx="4.33" cy="12.50" r="2.5" fill="url(#ball1)"/><circle cx="8.66" cy="0.00" r="2.5" fill="url(#ball1)"/><circle cx="8.66" cy="5.00" r="2.5" fill="url(#ball1)"/><circle cx="0.00" cy="15.00" r="2.5" fill="url(#ball1)"/><circle cx="8.66" cy="15.00" r="2.5" fill="url(#ball1)"/></pattern>
<pattern id="g1c" patternUnits="userSpaceOnUse" width="9.007" height="15.600" patternTransform="rotate(12)"><path d="M0 0V5.20L4.50 7.80V13.00L0 15.60M4.50 13.00L9.01 15.60M4.50 7.80L9.01 5.20V0" stroke="#444" stroke-width="2.34" fill="none"/><circle cx="0.00" cy="0.00" r="2.6" fill="url(#ball1)"/><circle cx="0.00" cy="5.20" r="2.6" fill="url(#ball1)"/><circle cx="4.50" cy="7.80" r="2.6" fill="url(#ball1)"/><circle cx="4.50" cy="13.00" r="2.6" fill="url(#ball1)"/><circle cx="9.01" cy="0.00" r="2.6" fill="url(#ball1)"/><circle cx="9.01" cy="5.20" r="2.6" fill="url(#ball1)"/><circle cx="0.00" cy="15.60" r="2.6" fill="url(#ball1)"/><circle cx="9.01" cy="15.60" r="2.6" fill="url(#ball1)"/></pattern>
<pattern id="g2" patternUnits="userSpaceOnUse" width="7.101" height="12.300" patternTransform="rotate(0)"><path d="M0 0V4.10L3.55 6.15V10.25L0 12.30M3.55 10.25L7.10 12.30M3.55 6.15L7.10 4.10V0" stroke="#5a5a5a" stroke-width="1.67" fill="none"/><circle cx="0.00" cy="0.00" r="1.85" fill="url(#ball)"/><circle cx="0.00" cy="4.10" r="1.85" fill="url(#ball)"/><circle cx="3.55" cy="6.15" r="1.85" fill="url(#ball)"/><circle cx="3.55" cy="10.25" r="1.85" fill="url(#ball)"/><circle cx="7.10" cy="0.00" r="1.85" fill="url(#ball)"/><circle cx="7.10" cy="4.10" r="1.85" fill="url(#ball)"/><circle cx="0.00" cy="12.30" r="1.85" fill="url(#ball)"/><circle cx="7.10" cy="12.30" r="1.85" fill="url(#ball)"/></pattern>
<pattern id="g2b" patternUnits="userSpaceOnUse" width="7.101" height="12.300" patternTransform="rotate(20)"><path d="M0 0V4.10L3.55 6.15V10.25L0 12.30M3.55 10.25L7.10 12.30M3.55 6.15L7.10 4.10V0" stroke="#5a5a5a" stroke-width="1.67" fill="none"/><circle cx="0.00" cy="0.00" r="1.85" fill="url(#ball)"/><circle cx="0.00" cy="4.10" r="1.85" fill="url(#ball)"/><circle cx="3.55" cy="6.15" r="1.85" fill="url(#ball)"/><circle cx="3.55" cy="10.25" r="1.85" fill="url(#ball)"/><circle cx="7.10" cy="0.00" r="1.85" fill="url(#ball)"/><circle cx="7.10" cy="4.10" r="1.85" fill="url(#ball)"/><circle cx="0.00" cy="12.30" r="1.85" fill="url(#ball)"/><circle cx="7.10" cy="12.30" r="1.85" fill="url(#ball)"/></pattern>
<pattern id="g2c" patternUnits="userSpaceOnUse" width="5.716" height="9.900" patternTransform="rotate(45)"><path d="M0 0V3.30L2.86 4.95V8.25L0 9.90M2.86 8.25L5.72 9.90M2.86 4.95L5.72 3.30V0" stroke="#5a5a5a" stroke-width="1.35" fill="none"/><circle cx="0.00" cy="0.00" r="1.5" fill="url(#ball)"/><circle cx="0.00" cy="3.30" r="1.5" fill="url(#ball)"/><circle cx="2.86" cy="4.95" r="1.5" fill="url(#ball)"/><circle cx="2.86" cy="8.25" r="1.5" fill="url(#ball)"/><circle cx="5.72" cy="0.00" r="1.5" fill="url(#ball)"/><circle cx="5.72" cy="3.30" r="1.5" fill="url(#ball)"/><circle cx="0.00" cy="9.90" r="1.5" fill="url(#ball)"/><circle cx="5.72" cy="9.90" r="1.5" fill="url(#ball)"/></pattern>
<pattern id="g2d" patternUnits="userSpaceOnUse" width="6.235" height="10.800" patternTransform="rotate(10)"><path d="M0 0V3.60L3.12 5.40V9.00L0 10.80M3.12 9.00L6.24 10.80M3.12 5.40L6.24 3.60V0" stroke="#5a5a5a" stroke-width="1.48" fill="none"/><circle cx="0.00" cy="0.00" r="1.65" fill="url(#ball)"/><circle cx="0.00" cy="3.60" r="1.65" fill="url(#ball)"/><circle cx="3.12" cy="5.40" r="1.65" fill="url(#ball)"/><circle cx="3.12" cy="9.00" r="1.65" fill="url(#ball)"/><circle cx="6.24" cy="0.00" r="1.65" fill="url(#ball)"/><circle cx="6.24" cy="3.60" r="1.65" fill="url(#ball)"/><circle cx="0.00" cy="10.80" r="1.65" fill="url(#ball)"/><circle cx="6.24" cy="10.80" r="1.65" fill="url(#ball)"/></pattern>
<pattern id="g2e" patternUnits="userSpaceOnUse" width="7.101" height="12.300" patternTransform="rotate(30)"><path d="M0 0V4.10L3.55 6.15V10.25L0 12.30M3.55 10.25L7.10 12.30M3.55 6.15L7.10 4.10V0" stroke="#5a5a5a" stroke-width="1.67" fill="none"/><circle cx="0.00" cy="0.00" r="1.85" fill="url(#ball)"/><circle cx="0.00" cy="4.10" r="1.85" fill="url(#ball)"/><circle cx="3.55" cy="6.15" r="1.85" fill="url(#ball)"/><circle cx="3.55" cy="10.25" r="1.85" fill="url(#ball)"/><circle cx="7.10" cy="0.00" r="1.85" fill="url(#ball)"/><circle cx="7.10" cy="4.10" r="1.85" fill="url(#ball)"/><circle cx="0.00" cy="12.30" r="1.85" fill="url(#ball)"/><circle cx="7.10" cy="12.30" r="1.85" fill="url(#ball)"/></pattern>
<pattern id="g2f" patternUnits="userSpaceOnUse" width="7.448" height="12.900" patternTransform="rotate(8)"><path d="M0 0V4.30L3.72 6.45V10.75L0 12.90M3.72 10.75L7.45 12.90M3.72 6.45L7.45 4.30V0" stroke="#5a5a5a" stroke-width="1.71" fill="none"/><circle cx="0.00" cy="0.00" r="1.9" fill="url(#ball)"/><circle cx="0.00" cy="4.30" r="1.9" fill="url(#ball)"/><circle cx="3.72" cy="6.45" r="1.9" fill="url(#ball)"/><circle cx="3.72" cy="10.75" r="1.9" fill="url(#ball)"/><circle cx="7.45" cy="0.00" r="1.9" fill="url(#ball)"/><circle cx="7.45" cy="4.30" r="1.9" fill="url(#ball)"/><circle cx="0.00" cy="12.90" r="1.9" fill="url(#ball)"/><circle cx="7.45" cy="12.90" r="1.9" fill="url(#ball)"/></pattern>
<pattern id="g2g" patternUnits="userSpaceOnUse" width="7.101" height="12.300" patternTransform="rotate(40)"><path d="M0 0V4.10L3.55 6.15V10.25L0 12.30M3.55 10.25L7.10 12.30M3.55 6.15L7.10 4.10V0" stroke="#5a5a5a" stroke-width="1.67" fill="none"/><circle cx="0.00" cy="0.00" r="1.85" fill="url(#ball)"/><circle cx="0.00" cy="4.10" r="1.85" fill="url(#ball)"/><circle cx="3.55" cy="6.15" r="1.85" fill="url(#ball)"/><circle cx="3.55" cy="10.25" r="1.85" fill="url(#ball)"/><circle cx="7.10" cy="0.00" r="1.85" fill="url(#ball)"/><circle cx="7.10" cy="4.10" r="1.85" fill="url(#ball)"/><circle cx="0.00" cy="12.30" r="1.85" fill="url(#ball)"/><circle cx="7.10" cy="12.30" r="1.85" fill="url(#ball)"/></pattern>
<pattern id="g2h" patternUnits="userSpaceOnUse" width="5.716" height="9.900" patternTransform="rotate(17)"><path d="M0 0V3.30L2.86 4.95V8.25L0 9.90M2.86 8.25L5.72 9.90M2.86 4.95L5.72 3.30V0" stroke="#5a5a5a" stroke-width="1.35" fill="none"/><circle cx="0.00" cy="0.00" r="1.5" fill="url(#ball)"/><circle cx="0.00" cy="3.30" r="1.5" fill="url(#ball)"/><circle cx="2.86" cy="4.95" r="1.5" fill="url(#ball)"/><circle cx="2.86" cy="8.25" r="1.5" fill="url(#ball)"/><circle cx="5.72" cy="0.00" r="1.5" fill="url(#ball)"/><circle cx="5.72" cy="3.30" r="1.5" fill="url(#ball)"/><circle cx="0.00" cy="9.90" r="1.5" fill="url(#ball)"/><circle cx="5.72" cy="9.90" r="1.5" fill="url(#ball)"/></pattern>
<pattern id="g3" patternUnits="userSpaceOnUse" width="2.252" height="3.900" patternTransform="rotate(15)"><path d="M0 0V1.30L1.13 1.95V3.25L0 3.90M1.13 3.25L2.25 3.90M1.13 1.95L2.25 1.30V0" stroke="#555" stroke-width="0.77" fill="none"/><circle cx="0.00" cy="0.00" r="0.85" fill="url(#ball)"/><circle cx="0.00" cy="1.30" r="0.85" fill="url(#ball)"/><circle cx="1.13" cy="1.95" r="0.85" fill="url(#ball)"/><circle cx="1.13" cy="3.25" r="0.85" fill="url(#ball)"/><circle cx="2.25" cy="0.00" r="0.85" fill="url(#ball)"/><circle cx="2.25" cy="1.30" r="0.85" fill="url(#ball)"/><circle cx="0.00" cy="3.90" r="0.85" fill="url(#ball)"/><circle cx="2.25" cy="3.90" r="0.85" fill="url(#ball)"/></pattern>
<pattern id="g3b" patternUnits="userSpaceOnUse" width="2.252" height="3.900" patternTransform="rotate(50)"><path d="M0 0V1.30L1.13 1.95V3.25L0 3.90M1.13 3.25L2.25 3.90M1.13 1.95L2.25 1.30V0" stroke="#555" stroke-width="0.77" fill="none"/><circle cx="0.00" cy="0.00" r="0.85" fill="url(#ball)"/><circle cx="0.00" cy="1.30" r="0.85" fill="url(#ball)"/><circle cx="1.13" cy="1.95" r="0.85" fill="url(#ball)"/><circle cx="1.13" cy="3.25" r="0.85" fill="url(#ball)"/><circle cx="2.25" cy="0.00" r="0.85" fill="url(#ball)"/><circle cx="2.25" cy="1.30" r="0.85" fill="url(#ball)"/><circle cx="0.00" cy="3.90" r="0.85" fill="url(#ball)"/><circle cx="2.25" cy="3.90" r="0.85" fill="url(#ball)"/></pattern>
<filter id="molsh" x="-20%" y="-20%" width="140%" height="140%"><feGaussianBlur in="SourceAlpha" stdDeviation="1.6"/><feOffset dx="1" dy="2"/><feComponentTransfer><feFuncA type="linear" slope="0.35"/></feComponentTransfer><feMerge><feMergeNode/><feMergeNode in="SourceGraphic"/></feMerge></filter>
<clipPath id="c1"><circle cx="356.8" cy="234.6" r="96"/></clipPath>
<clipPath id="c2"><circle cx="574.2" cy="234.8" r="96"/></clipPath>
</defs>
<path d="M74.2 35.3H155.8L160.2 51.6L146.9 115.5L143.4 119L132.7 120.5L130.1 117.3L84.8 71.1Z" fill="url(#noz)"/>
<path d="M74.2 35.3H155.8L160.2 51.6C140 48 110 50 86.6 67.6L84.8 71.1Z" fill="url(#noz2)"/>
<ellipse cx="138" cy="118.6" rx="6" ry="2" fill="#3a3a3a"/>
<path d="M141.6 126C146 132 160 138 165 150C169 162 162 172 151 172.3C138 172.5 131 163 132 152C133 142 138 134 141.6 126Z" fill="#ededed" stroke="#b8b8b8" stroke-width="1.2"/>
<path d="M139 146L150 141L156 150L145 156Z" fill="url(#g3)" opacity="0.9"/>
<path d="M146 158L157 152L162 162L151 168Z" fill="url(#g3b)" opacity="0.9"/>
<text transform="translate(178.5,89) rotate(17.8)" font-size="22.6" fill="#111">IPA + PVP</text>
<text transform="translate(165,114) rotate(17.8)" font-size="22.6" fill="#111">+ Graphene</text>
<text x="426.3" y="126.3" font-size="22.6" fill="#111">30 min</text>
<text x="425.6" y="155.3" font-size="22.6" fill="#111">400 °C</text>
<path d="M268.3 285.3C265.1 286.2 255.2 288.5 249.1 290.5C243.0 292.5 237.5 295.2 231.7 297.5C225.9 299.8 220.1 302.3 214.3 304.5C208.5 306.7 201.8 309.3 196.8 310.6C191.9 311.9 188.9 312.7 184.6 312.3C180.2 311.9 175.9 310.8 170.7 308.0C165.5 305.2 159.1 300.8 153.3 295.8C147.5 290.9 141.7 284.4 135.9 278.3C130.1 272.2 124.2 265.6 118.4 259.2C112.6 252.8 107.4 246.4 101.0 240.0C94.6 233.6 87.0 225.2 80.2 220.5C73.4 215.8 63.4 213.2 60.0 211.7L60.0 211.7C61.7 210.6 66.3 206.9 70.0 205.0C73.7 203.1 77.8 201.6 82.0 200.0C86.2 198.4 91.1 197.2 95.0 195.5C98.9 193.8 99.2 192.7 105.3 190.0C111.4 187.3 122.7 182.1 131.4 179.2C140.1 176.3 150.2 174.4 157.5 172.6C164.8 170.8 168.1 170.5 175.0 168.3C181.9 166.1 192.7 161.8 198.8 159.6C205.0 157.4 207.2 153.0 211.9 155.2C216.6 157.4 221.3 167.1 227.1 172.6C232.9 178.1 241.6 183.2 246.7 187.9C251.8 192.6 254.6 193.9 257.6 200.9C260.7 207.9 263.2 215.9 265.0 230.0C266.8 244.1 267.8 276.1 268.3 285.3Z" fill="#f6cbab"/>
<clipPath id="fl"><path d="M68.3 203L92 197L100 214L72 221Z M105.3 190L131.4 179.2L157.5 172.6L175 168.3L198.8 159.6L211.9 155.2L227.1 172.6L246.7 187.9L257.6 200.9L266 230L266.6 283.6L231.7 292.3L195.1 306.2L169 299.3L152 288L137.6 274.9L121.9 259L105 235L96 215Z"/></clipPath>
<g clip-path="url(#fl)">
<rect x="60" y="150" width="215" height="165" fill="#e8b898"/>
<g transform="translate(65.6 155.4) rotate(-9) skewX(-25)" opacity="0.88"><rect x="-11.7" y="-6.2" width="23.3" height="12.3" fill="#7a6e6a"/><rect x="-11.7" y="-6.2" width="23.3" height="12.3" fill="url(#g3)" opacity="0.7"/></g><g transform="translate(99.2 155.7) rotate(-7) skewX(-25)" opacity="0.76"><rect x="-8.2" y="-5.0" width="16.4" height="10.1" fill="#6e6260"/><rect x="-8.2" y="-5.0" width="16.4" height="10.1" fill="url(#g3)" opacity="0.7"/></g><g transform="translate(110.2 154.8) rotate(-8) skewX(-25)" opacity="0.72"><rect x="-9.5" y="-7.1" width="19.0" height="14.2" fill="#857874"/><rect x="-9.5" y="-7.1" width="19.0" height="14.2" fill="url(#g3b)" opacity="0.7"/></g><g transform="translate(131.2 154.4) rotate(-48) skewX(-25)" opacity="0.87"><rect x="-10.0" y="-7.3" width="20.0" height="14.7" fill="#625858"/><rect x="-10.0" y="-7.3" width="20.0" height="14.7" fill="url(#g3b)" opacity="0.7"/></g><g transform="translate(142.2 155.4) rotate(-29) skewX(-25)" opacity="0.89"><rect x="-8.0" y="-5.3" width="16.0" height="10.5" fill="#6e6260"/><rect x="-8.0" y="-5.3" width="16.0" height="10.5" fill="url(#g3)" opacity="0.7"/></g><g transform="translate(159.7 157.5) rotate(-19) skewX(-25)" opacity="0.85"><rect x="-9.6" y="-7.5" width="19.2" height="14.9" fill="#706866"/><rect x="-9.6" y="-7.5" width="19.2" height="14.9" fill="url(#g3)" opacity="0.7"/></g><g transform="translate(176.2 152.5) rotate(13) skewX(-25)" opacity="0.77"><rect x="-9.0" y="-7.4" width="18.0" height="14.8" fill="#7a6e6a"/><rect x="-9.0" y="-7.4" width="18.0" height="14.8" fill="url(#g3)" opacity="0.7"/></g><g transform="translate(190.5 156.8) rotate(-15) skewX(-25)" opacity="0.80"><rect x="-8.3" y="-6.4" width="16.6" height="12.8" fill="#7a6e6a"/><rect x="-8.3" y="-6.4" width="16.6" height="12.8" fill="url(#g3)" opacity="0.7"/></g><g transform="translate(209.2 157.9) rotate(33) skewX(-25)" opacity="0.76"><rect x="-7.5" y="-7.2" width="15.0" height="14.3" fill="#6e6260"/><rect x="-7.5" y="-7.2" width="15.0" height="14.3" fill="url(#g3b)" opacity="0.7"/></g><g transform="translate(228.8 155.9) rotate(-36) skewX(-25)" opacity="0.87"><rect x="-8.0" y="-7.5" width="15.9" height="14.9" fill="#6e6260"/><rect x="-8.0" y="-7.5" width="15.9" height="14.9" fill="url(#g3b)" opacity="0.7"/></g><g transform="translate(240.4 152.4) rotate(-33) skewX(-25)" opacity="0.84"><rect x="-7.9" y="-6.5" width="15.8" height="12.9" fill="#625858"/><rect x="-7.9" y="-6.5" width="15.8" height="12.9" fill="url(#g3b)" opacity="0.7"/></g><g transform="translate(258.7 157.0) rotate(1) skewX(-25)" opacity="0.88"><rect x="-8.1" y="-6.0" width="16.2" height="11.9" fill="#7a6e6a"/><rect x="-8.1" y="-6.0" width="16.2" height="11.9" fill="url(#g3b)" opacity="0.7"/></g><g transform="translate(71.5 168.4) rotate(31) skewX(-25)" opacity="0.74"><rect x="-11.7" y="-5.5" width="23.5" height="11.0" fill="#706866"/><rect x="-11.7" y="-5.5" width="23.5" height="11.0" fill="url(#g3b)" opacity="0.7"/></g><g transform="translate(86.9 167.1) rotate(-20) skewX(-25)" opacity="0.82"><rect x="-8.6" y="-6.8" width="17.3" height="13.7" fill="#706866"/><rect x="-8.6" y="-6.8" width="17.3" height="13.7" fill="url(#g3b)" opacity="0.7"/></g><g transform="translate(134.7 164.8) rotate(11) skewX(-25)" opacity="0.73"><rect x="-9.5" y="-5.8" width="19.1" height="11.7" fill="#706866"/><rect x="-9.5" y="-5.8" width="19.1" height="11.7" fill="url(#g3)" opacity="0.7"/></g><g transform="translate(157.3 168.2) rotate(2) skewX(-25)" opacity="0.87"><rect x="-11.8" y="-5.1" width="23.7" height="10.1" fill="#6e6260"/><rect x="-11.8" y="-5.1" width="23.7" height="10.1" fill="url(#g3b)" opacity="0.7"/></g><g transform="translate(174.0 164.5) rotate(26) skewX(-25)" opacity="0.79"><rect x="-10.0" y="-6.8" width="19.9" height="13.7" fill="#625858"/><rect x="-10.0" y="-6.8" width="19.9" height="13.7" fill="url(#g3)" opacity="0.7"/></g><g transform="translate(189.2 169.2) rotate(23) skewX(-25)" opacity="0.85"><rect x="-9.4" y="-7.0" width="18.8" height="14.0" fill="#706866"/><rect x="-9.4" y="-7.0" width="18.8" height="14.0" fill="url(#g3)" opacity="0.7"/></g><g transform="translate(198.1 164.4) rotate(-32) skewX(-25)" opacity="0.80"><rect x="-7.9" y="-5.3" width="15.8" height="10.6" fill="#625858"/><rect x="-7.9" y="-5.3" width="15.8" height="10.6" fill="url(#g3b)" opacity="0.7"/></g><g transform="translate(218.6 166.6) rotate(13) skewX(-25)" opacity="0.84"><rect x="-11.3" y="-5.2" width="22.5" height="10.4" fill="#625858"/><rect x="-11.3" y="-5.2" width="22.5" height="10.4" fill="url(#g3)" opacity="0.7"/></g><g transform="translate(231.8 168.2) rotate(28) skewX(-25)" opacity="0.79"><rect x="-9.7" y="-6.5" width="19.5" height="13.1" fill="#6e6260"/><rect x="-9.7" y="-6.5" width="19.5" height="13.1" fill="url(#g3b)" opacity="0.7"/></g><g transform="translate(250.9 167.1) rotate(29) skewX(-25)" opacity="0.79"><rect x="-10.9" y="-5.9" width="21.8" height="11.7" fill="#7a6e6a"/><rect x="-10.9" y="-5.9" width="21.8" height="11.7" fill="url(#g3b)" opacity="0.7"/></g><g transform="translate(263.6 166.6) rotate(24) skewX(-25)" opacity="0.84"><rect x="-11.1" y="-7.3" width="22.3" height="14.6" fill="#7a6e6a"/><rect x="-11.1" y="-7.3" width="22.3" height="14.6" fill="url(#g3b)" opacity="0.7"/></g><g transform="translate(63.1 179.0) rotate(9) skewX(-25)" opacity="0.74"><rect x="-11.3" y="-7.1" width="22.5" height="14.2" fill="#7a6e6a"/><rect x="-11.3" y="-7.1" width="22.5" height="14.2" fill="url(#g3b)" opacity="0.7"/></g><g transform="translate(85.4 181.0) rotate(5) skewX(-25)" opacity="0.73"><rect x="-9.2" y="-6.3" width="18.4" height="12.6" fill="#625858"/><rect x="-9.2" y="-6.3" width="18.4" height="12.6" fill="url(#g3b)" opacity="0.7"/></g><g transform="translate(101.0 176.2) rotate(-27) skewX(-25)" opacity="0.80"><rect x="-10.7" y="-6.4" width="21.4" height="12.9" fill="#7a6e6a"/><rect x="-10.7" y="-6.4" width="21.4" height="12.9" fill="url(#g3)" opacity="0.7"/></g><g transform="translate(116.2 177.6) rotate(34) skewX(-25)" opacity="0.74"><rect x="-11.0" y="-7.0" width="22.0" height="14.0" fill="#857874"/><rect x="-11.0" y="-7.0" width="22.0" height="14.0" fill="url(#g3)" opacity="0.7"/></g><g transform="translate(131.1 178.2) rotate(19) skewX(-25)" opacity="0.86"><rect x="-7.9" y="-5.5" width="15.7" height="11.0" fill="#7a6e6a"/><rect x="-7.9" y="-5.5" width="15.7" height="11.0" fill="url(#g3b)" opacity="0.7"/></g><g transform="translate(146.3 176.2) rotate(-6) skewX(-25)" opacity="0.89"><rect x="-8.5" y="-6.9" width="17.0" height="13.9" fill="#857874"/><rect x="-8.5" y="-6.9" width="17.0" height="13.9" fill="url(#g3)" opacity="0.7"/></g><g transform="translate(159.8 178.5) rotate(-14) skewX(-25)" opacity="0.80"><rect x="-11.5" y="-6.0" width="23.0" height="11.9" fill="#6e6260"/><rect x="-11.5" y="-6.0" width="23.0" height="11.9" fill="url(#g3)" opacity="0.7"/></g><g transform="translate(181.0 180.8) rotate(4) skewX(-25)" opacity="0.86"><rect x="-11.7" y="-6.2" width="23.5" height="12.3" fill="#6e6260"/><rect x="-11.7" y="-6.2" width="23.5" height="12.3" fill="url(#g3)" opacity="0.7"/></g><g transform="translate(208.1 180.3) rotate(-52) skewX(-25)" opacity="0.80"><rect x="-7.6" y="-6.3" width="15.1" height="12.5" fill="#706866"/><rect x="-7.6" y="-6.3" width="15.1" height="12.5" fill="url(#g3b)" opacity="0.7"/></g><g transform="translate(245.2 179.1) rotate(24) skewX(-25)" opacity="0.81"><rect x="-10.6" y="-6.1" width="21.1" height="12.2" fill="#7a6e6a"/><rect x="-10.6" y="-6.1" width="21.1" height="12.2" fill="url(#g3)" opacity="0.7"/></g><g transform="translate(77.0 191.7) rotate(-6) skewX(-25)" opacity="0.82"><rect x="-8.9" y="-5.4" width="17.7" height="10.7" fill="#706866"/><rect x="-8.9" y="-5.4" width="17.7" height="10.7" fill="url(#g3b)" opacity="0.7"/></g><g transform="translate(86.9 188.0) rotate(-51) skewX(-25)" opacity="0.88"><rect x="-9.2" y="-6.3" width="18.4" height="12.7" fill="#706866"/><rect x="-9.2" y="-6.3" width="18.4" height="12.7" fill="url(#g3b)" opacity="0.7"/></g><g transform="translate(105.9 192.1) rotate(-18) skewX(-25)" opacity="0.77"><rect x="-7.8" y="-6.3" width="15.6" height="12.7" fill="#625858"/><rect x="-7.8" y="-6.3" width="15.6" height="12.7" fill="url(#g3b)" opacity="0.7"/></g><g transform="translate(120.7 193.4) rotate(-8) skewX(-25)" opacity="0.80"><rect x="-11.7" y="-7.3" width="23.4" height="14.6" fill="#7a6e6a"/><rect x="-11.7" y="-7.3" width="23.4" height="14.6" fill="url(#g3)" opacity="0.7"/></g><g transform="translate(136.1 192.2) rotate(-41) skewX(-25)" opacity="0.78"><rect x="-11.9" y="-5.1" width="23.8" height="10.2" fill="#625858"/><rect x="-11.9" y="-5.1" width="23.8" height="10.2" fill="url(#g3)" opacity="0.7"/></g><g transform="translate(155.0 188.6) rotate(-9) skewX(-25)" opacity="0.86"><rect x="-10.8" y="-5.3" width="21.6" height="10.6" fill="#7a6e6a"/><rect x="-10.8" y="-5.3" width="21.6" height="10.6" fill="url(#g3b)" opacity="0.7"/></g><g transform="translate(166.2 191.8) rotate(-7) skewX(-25)" opacity="0.76"><rect x="-11.2" y="-6.5" width="22.4" height="13.1" fill="#706866"/><rect x="-11.2" y="-6.5" width="22.4" height="13.1" fill="url(#g3)" opacity="0.7"/></g><g transform="translate(199.6 192.7) rotate(25) skewX(-25)" opacity="0.77"><rect x="-8.4" y="-5.2" width="16.8" height="10.5" fill="#6e6260"/><rect x="-8.4" y="-5.2" width="16.8" height="10.5" fill="url(#g3)" opacity="0.7"/></g><g transform="translate(220.7 190.5) rotate(-19) skewX(-25)" opacity="0.76"><rect x="-11.1" y="-5.3" width="22.1" height="10.6" fill="#6e6260"/><rect x="-11.1" y="-5.3" width="22.1" height="10.6" fill="url(#g3)" opacity="0.7"/></g><g transform="translate(237.3 193.8) rotate(13) skewX(-25)" opacity="0.82"><rect x="-8.0" y="-6.3" width="16.0" height="12.5" fill="#6e6260"/><rect x="-8.0" y="-6.3" width="16.0" height="12.5" fill="url(#g3)" opacity="0.7"/></g><g transform="translate(252.1 191.7) rotate(-38) skewX(-25)" opacity="0.75"><rect x="-11.6" y="-6.2" width="23.1" height="12.4" fill="#7a6e6a"/><rect x="-11.6" y="-6.2" width="23.1" height="12.4" fill="url(#g3)" opacity="0.7"/></g><g transform="translate(264.3 192.0) rotate(6) skewX(-25)" opacity="0.79"><rect x="-10.1" y="-5.3" width="20.2" height="10.7" fill="#6e6260"/><rect x="-10.1" y="-5.3" width="20.2" height="10.7" fill="url(#g3)" opacity="0.7"/></g><g transform="translate(66.1 202.6) rotate(8) skewX(-25)" opacity="0.80"><rect x="-10.2" y="-5.0" width="20.4" height="10.1" fill="#7a6e6a"/><rect x="-10.2" y="-5.0" width="20.4" height="10.1" fill="url(#g3)" opacity="0.7"/></g><g transform="translate(81.0 205.5) rotate(16) skewX(-25)" opacity="0.88"><rect x="-10.2" y="-5.2" width="20.4" height="10.5" fill="#6e6260"/><rect x="-10.2" y="-5.2" width="20.4" height="10.5" fill="url(#g3b)" opacity="0.7"/></g><g transform="translate(100.9 203.8) rotate(-10) skewX(-25)" opacity="0.78"><rect x="-9.3" y="-6.5" width="18.6" height="13.0" fill="#625858"/><rect x="-9.3" y="-6.5" width="18.6" height="13.0" fill="url(#g3b)" opacity="0.7"/></g><g transform="translate(115.9 201.0) rotate(-25) skewX(-25)" opacity="0.87"><rect x="-11.7" y="-5.3" width="23.4" height="10.7" fill="#857874"/><rect x="-11.7" y="-5.3" width="23.4" height="10.7" fill="url(#g3b)" opacity="0.7"/></g><g transform="translate(131.8 200.4) rotate(-54) skewX(-25)" opacity="0.73"><rect x="-9.0" y="-6.2" width="18.1" height="12.3" fill="#706866"/><rect x="-9.0" y="-6.2" width="18.1" height="12.3" fill="url(#g3b)" opacity="0.7"/></g><g transform="translate(149.7 201.8) rotate(-39) skewX(-25)" opacity="0.82"><rect x="-8.5" y="-6.0" width="16.9" height="12.0" fill="#857874"/><rect x="-8.5" y="-6.0" width="16.9" height="12.0" fill="url(#g3)" opacity="0.7"/></g><g transform="translate(159.7 200.7) rotate(-45) skewX(-25)" opacity="0.77"><rect x="-9.3" y="-6.4" width="18.6" height="12.9" fill="#7a6e6a"/><rect x="-9.3" y="-6.4" width="18.6" height="12.9" fill="url(#g3)" opacity="0.7"/></g><g transform="translate(174.4 201.2) rotate(-32) skewX(-25)" opacity="0.83"><rect x="-9.2" y="-5.2" width="18.4" height="10.5" fill="#706866"/><rect x="-9.2" y="-5.2" width="18.4" height="10.5" fill="url(#g3b)" opacity="0.7"/></g><g transform="translate(194.2 205.1) rotate(3) skewX(-25)" opacity="0.91"><rect x="-7.9" y="-6.1" width="15.9" height="12.2" fill="#857874"/><rect x="-7.9" y="-6.1" width="15.9" height="12.2" fill="url(#g3)" opacity="0.7"/></g><g transform="translate(209.8 201.0) rotate(-50) skewX(-25)" opacity="0.78"><rect x="-9.7" y="-6.5" width="19.5" height="13.1" fill="#857874"/><rect x="-9.7" y="-6.5" width="19.5" height="13.1" fill="url(#g3b)" opacity="0.7"/></g><g transform="translate(224.5 203.2) rotate(29) skewX(-25)" opacity="0.72"><rect x="-9.7" y="-5.7" width="19.3" height="11.3" fill="#6e6260"/><rect x="-9.7" y="-5.7" width="19.3" height="11.3" fill="url(#g3b)" opacity="0.7"/></g><g transform="translate(238.3 200.9) rotate(26) skewX(-25)" opacity="0.84"><rect x="-10.9" y="-6.0" width="21.8" height="11.9" fill="#6e6260"/><rect x="-10.9" y="-6.0" width="21.8" height="11.9" fill="url(#g3b)" opacity="0.7"/></g><g transform="translate(75.8 214.8) rotate(-1) skewX(-25)" opacity="0.84"><rect x="-11.9" y="-7.0" width="23.8" height="14.1" fill="#6e6260"/><rect x="-11.9" y="-7.0" width="23.8" height="14.1" fill="url(#g3)" opacity="0.7"/></g><g transform="translate(87.6 212.3) rotate(-15) skewX(-25)" opacity="0.84"><rect x="-9.9" y="-5.3" width="19.8" height="10.6" fill="#857874"/><rect x="-9.9" y="-5.3" width="19.8" height="10.6" fill="url(#g3b)" opacity="0.7"/></g><g transform="translate(107.5 214.2) rotate(-43) skewX(-25)" opacity="0.77"><rect x="-10.8" y="-7.0" width="21.7" height="14.1" fill="#7a6e6a"/><rect x="-10.8" y="-7.0" width="21.7" height="14.1" fill="url(#g3b)" opacity="0.7"/></g><g transform="translate(125.1 216.7) rotate(-31) skewX(-25)" opacity="0.87"><rect x="-10.3" y="-5.9" width="20.6" height="11.8" fill="#625858"/><rect x="-10.3" y="-5.9" width="20.6" height="11.8" fill="url(#g3)" opacity="0.7"/></g><g transform="translate(136.0 217.9) rotate(-51) skewX(-25)" opacity="0.77"><rect x="-11.6" y="-7.2" width="23.2" height="14.4" fill="#6e6260"/><rect x="-11.6" y="-7.2" width="23.2" height="14.4" fill="url(#g3)" opacity="0.7"/></g><g transform="translate(169.9 214.1) rotate(-43) skewX(-25)" opacity="0.81"><rect x="-9.0" y="-6.2" width="18.0" height="12.5" fill="#6e6260"/><rect x="-9.0" y="-6.2" width="18.0" height="12.5" fill="url(#g3)" opacity="0.7"/></g><g transform="translate(188.7 216.6) rotate(-20) skewX(-25)" opacity="0.75"><rect x="-9.5" y="-6.9" width="19.0" height="13.7" fill="#625858"/><rect x="-9.5" y="-6.9" width="19.0" height="13.7" fill="url(#g3)" opacity="0.7"/></g><g transform="translate(202.8 213.7) rotate(-38) skewX(-25)" opacity="0.74"><rect x="-10.9" y="-7.1" width="21.8" height="14.1" fill="#706866"/><rect x="-10.9" y="-7.1" width="21.8" height="14.1" fill="url(#g3b)" opacity="0.7"/></g><g transform="translate(214.6 212.5) rotate(7) skewX(-25)" opacity="0.74"><rect x="-10.0" y="-6.2" width="20.1" height="12.4" fill="#6e6260"/><rect x="-10.0" y="-6.2" width="20.1" height="12.4" fill="url(#g3b)" opacity="0.7"/></g><g transform="translate(235.3 212.5) rotate(7) skewX(-25)" opacity="0.76"><rect x="-8.9" y="-6.8" width="17.7" height="13.6" fill="#7a6e6a"/><rect x="-8.9" y="-6.8" width="17.7" height="13.6" fill="url(#g3b)" opacity="0.7"/></g><g transform="translate(265.7 213.3) rotate(-9) skewX(-25)" opacity="0.89"><rect x="-11.9" y="-6.8" width="23.7" height="13.6" fill="#625858"/><rect x="-11.9" y="-6.8" width="23.7" height="13.6" fill="url(#g3)" opacity="0.7"/></g><g transform="translate(67.4 227.5) rotate(-22) skewX(-25)" opacity="0.75"><rect x="-11.1" y="-6.8" width="22.2" height="13.7" fill="#706866"/><rect x="-11.1" y="-6.8" width="22.2" height="13.7" fill="url(#g3b)" opacity="0.7"/></g><g transform="translate(79.4 224.5) rotate(18) skewX(-25)" opacity="0.73"><rect x="-9.5" y="-7.1" width="19.1" height="14.3" fill="#706866"/><rect x="-9.5" y="-7.1" width="19.1" height="14.3" fill="url(#g3)" opacity="0.7"/></g><g transform="translate(96.4 224.1) rotate(-3) skewX(-25)" opacity="0.74"><rect x="-11.3" y="-6.1" width="22.6" height="12.1" fill="#706866"/><rect x="-11.3" y="-6.1" width="22.6" height="12.1" fill="url(#g3b)" opacity="0.7"/></g><g transform="translate(115.9 229.4) rotate(-42) skewX(-25)" opacity="0.86"><rect x="-7.9" y="-6.6" width="15.8" height="13.2" fill="#7a6e6a"/><rect x="-7.9" y="-6.6" width="15.8" height="13.2" fill="url(#g3b)" opacity="0.7"/></g><g transform="translate(133.3 226.0) rotate(18) skewX(-25)" opacity="0.82"><rect x="-9.6" y="-5.9" width="19.1" height="11.8" fill="#7a6e6a"/><rect x="-9.6" y="-5.9" width="19.1" height="11.8" fill="url(#g3b)" opacity="0.7"/></g><g transform="translate(147.8 228.2) rotate(19) skewX(-25)" opacity="0.88"><rect x="-11.6" y="-6.0" width="23.2" height="12.1" fill="#6e6260"/><rect x="-11.6" y="-6.0" width="23.2" height="12.1" fill="url(#g3b)" opacity="0.7"/></g><g transform="translate(176.0 225.0) rotate(-26) skewX(-25)" opacity="0.83"><rect x="-10.4" y="-6.7" width="20.7" height="13.4" fill="#857874"/><rect x="-10.4" y="-6.7" width="20.7" height="13.4" fill="url(#g3b)" opacity="0.7"/></g><g transform="translate(197.1 226.8) rotate(-41) skewX(-25)" opacity="0.87"><rect x="-10.8" y="-5.8" width="21.6" height="11.5" fill="#6e6260"/><rect x="-10.8" y="-5.8" width="21.6" height="11.5" fill="url(#g3)" opacity="0.7"/></g><g transform="translate(209.8 228.8) rotate(-23) skewX(-25)" opacity="0.86"><rect x="-8.9" y="-5.5" width="17.8" height="11.0" fill="#706866"/><rect x="-8.9" y="-5.5" width="17.8" height="11.0" fill="url(#g3)" opacity="0.7"/></g><g transform="translate(223.8 225.1) rotate(13) skewX(-25)" opacity="0.91"><rect x="-8.8" y="-5.4" width="17.5" height="10.9" fill="#706866"/><rect x="-8.8" y="-5.4" width="17.5" height="10.9" fill="url(#g3b)" opacity="0.7"/></g><g transform="translate(244.8 226.9) rotate(4) skewX(-25)" opacity="0.89"><rect x="-9.3" y="-7.4" width="18.6" height="14.8" fill="#857874"/><rect x="-9.3" y="-7.4" width="18.6" height="14.8" fill="url(#g3)" opacity="0.7"/></g><g transform="translate(255.7 224.8) rotate(17) skewX(-25)" opacity="0.85"><rect x="-11.1" y="-7.4" width="22.2" height="14.9" fill="#6e6260"/><rect x="-11.1" y="-7.4" width="22.2" height="14.9" fill="url(#g3b)" opacity="0.7"/></g><g transform="translate(70.1 238.8) rotate(9) skewX(-25)" opacity="0.75"><rect x="-9.2" y="-7.0" width="18.3" height="14.0" fill="#857874"/><rect x="-9.2" y="-7.0" width="18.3" height="14.0" fill="url(#g3)" opacity="0.7"/></g><g transform="translate(88.1 241.2) rotate(34) skewX(-25)" opacity="0.83"><rect x="-9.8" y="-6.6" width="19.6" height="13.2" fill="#706866"/><rect x="-9.8" y="-6.6" width="19.6" height="13.2" fill="url(#g3b)" opacity="0.7"/></g><g transform="translate(108.2 236.0) rotate(19) skewX(-25)" opacity="0.77"><rect x="-11.2" y="-7.1" width="22.4" height="14.2" fill="#625858"/><rect x="-11.2" y="-7.1" width="22.4" height="14.2" fill="url(#g3)" opacity="0.7"/></g><g transform="translate(118.8 238.9) rotate(-2) skewX(-25)" opacity="0.88"><rect x="-9.6" y="-7.4" width="19.2" height="14.8" fill="#6e6260"/><rect x="-9.6" y="-7.4" width="19.2" height="14.8" fill="url(#g3b)" opacity="0.7"/></g><g transform="translate(152.5 238.4) rotate(5) skewX(-25)" opacity="0.73"><rect x="-10.0" y="-7.5" width="20.0" height="15.0" fill="#625858"/><rect x="-10.0" y="-7.5" width="20.0" height="15.0" fill="url(#g3)" opacity="0.7"/></g><g transform="translate(171.3 240.1) rotate(-44) skewX(-25)" opacity="0.89"><rect x="-10.9" y="-7.0" width="21.7" height="13.9" fill="#6e6260"/><rect x="-10.9" y="-7.0" width="21.7" height="13.9" fill="url(#g3b)" opacity="0.7"/></g><g transform="translate(185.8 237.8) rotate(22) skewX(-25)" opacity="0.75"><rect x="-8.0" y="-6.9" width="16.0" height="13.9" fill="#706866"/><rect x="-8.0" y="-6.9" width="16.0" height="13.9" fill="url(#g3)" opacity="0.7"/></g><g transform="translate(205.5 240.5) rotate(-5) skewX(-25)" opacity="0.76"><rect x="-11.8" y="-6.9" width="23.6" height="13.8" fill="#625858"/><rect x="-11.8" y="-6.9" width="23.6" height="13.8" fill="url(#g3)" opacity="0.7"/></g><g transform="translate(214.9 237.9) rotate(3) skewX(-25)" opacity="0.74"><rect x="-8.7" y="-6.2" width="17.5" height="12.3" fill="#857874"/><rect x="-8.7" y="-6.2" width="17.5" height="12.3" fill="url(#g3b)" opacity="0.7"/></g><g transform="translate(230.8 240.1) rotate(-19) skewX(-25)" opacity="0.86"><rect x="-10.7" y="-5.4" width="21.4" height="10.9" fill="#706866"/><rect x="-10.7" y="-5.4" width="21.4" height="10.9" fill="url(#g3b)" opacity="0.7"/></g><g transform="translate(246.3 241.9) rotate(-24) skewX(-25)" opacity="0.75"><rect x="-9.5" y="-6.9" width="18.9" height="13.9" fill="#706866"/><rect x="-9.5" y="-6.9" width="18.9" height="13.9" fill="url(#g3b)" opacity="0.7"/></g><g transform="translate(68.3 252.0) rotate(-25) skewX(-25)" opacity="0.85"><rect x="-10.2" y="-5.0" width="20.5" height="10.1" fill="#625858"/><rect x="-10.2" y="-5.0" width="20.5" height="10.1" fill="url(#g3b)" opacity="0.7"/></g><g transform="translate(98.4 250.1) rotate(9) skewX(-25)" opacity="0.91"><rect x="-9.8" y="-5.4" width="19.5" height="10.7" fill="#706866"/><rect x="-9.8" y="-5.4" width="19.5" height="10.7" fill="url(#g3)" opacity="0.7"/></g><g transform="translate(111.6 248.5) rotate(8) skewX(-25)" opacity="0.91"><rect x="-8.6" y="-6.4" width="17.2" height="12.9" fill="#6e6260"/><rect x="-8.6" y="-6.4" width="17.2" height="12.9" fill="url(#g3b)" opacity="0.7"/></g><g transform="translate(129.7 248.7) rotate(26) skewX(-25)" opacity="0.90"><rect x="-11.9" y="-5.3" width="23.8" height="10.7" fill="#706866"/><rect x="-11.9" y="-5.3" width="23.8" height="10.7" fill="url(#g3)" opacity="0.7"/></g><g transform="translate(148.0 253.4) rotate(29) skewX(-25)" opacity="0.86"><rect x="-9.0" y="-5.4" width="18.0" height="10.7" fill="#625858"/><rect x="-9.0" y="-5.4" width="18.0" height="10.7" fill="url(#g3)" opacity="0.7"/></g><g transform="translate(164.1 250.2) rotate(18) skewX(-25)" opacity="0.80"><rect x="-8.2" y="-6.5" width="16.5" height="13.0" fill="#6e6260"/><rect x="-8.2" y="-6.5" width="16.5" height="13.0" fill="url(#g3b)" opacity="0.7"/></g><g transform="translate(181.4 254.0) rotate(21) skewX(-25)" opacity="0.84"><rect x="-8.1" y="-6.9" width="16.2" height="13.8" fill="#706866"/><rect x="-8.1" y="-6.9" width="16.2" height="13.8" fill="url(#g3b)" opacity="0.7"/></g><g transform="translate(190.1 249.2) rotate(-20) skewX(-25)" opacity="0.79"><rect x="-9.6" y="-5.4" width="19.2" height="10.7" fill="#7a6e6a"/><rect x="-9.6" y="-5.4" width="19.2" height="10.7" fill="url(#g3b)" opacity="0.7"/></g><g transform="translate(208.0 253.6) rotate(10) skewX(-25)" opacity="0.91"><rect x="-7.7" y="-7.0" width="15.5" height="13.9" fill="#857874"/><rect x="-7.7" y="-7.0" width="15.5" height="13.9" fill="url(#g3)" opacity="0.7"/></g><g transform="translate(225.8 250.5) rotate(13) skewX(-25)" opacity="0.90"><rect x="-10.3" y="-6.7" width="20.6" height="13.4" fill="#857874"/><rect x="-10.3" y="-6.7" width="20.6" height="13.4" fill="url(#g3b)" opacity="0.7"/></g><g transform="translate(245.2 252.1) rotate(-45) skewX(-25)" opacity="0.82"><rect x="-11.2" y="-5.3" width="22.4" height="10.6" fill="#706866"/><rect x="-11.2" y="-5.3" width="22.4" height="10.6" fill="url(#g3b)" opacity="0.7"/></g><g transform="translate(254.2 253.4) rotate(-16) skewX(-25)" opacity="0.78"><rect x="-8.8" y="-6.5" width="17.7" height="13.1" fill="#706866"/><rect x="-8.8" y="-6.5" width="17.7" height="13.1" fill="url(#g3b)" opacity="0.7"/></g><g transform="translate(77.1 265.3) rotate(-33) skewX(-25)" opacity="0.82"><rect x="-8.6" y="-7.1" width="17.2" height="14.2" fill="#6e6260"/><rect x="-8.6" y="-7.1" width="17.2" height="14.2" fill="url(#g3b)" opacity="0.7"/></g><g transform="translate(93.3 263.3) rotate(24) skewX(-25)" opacity="0.80"><rect x="-10.5" y="-7.4" width="20.9" height="14.7" fill="#706866"/><rect x="-10.5" y="-7.4" width="20.9" height="14.7" fill="url(#g3b)" opacity="0.7"/></g><g transform="translate(103.8 264.5) rotate(-46) skewX(-25)" opacity="0.90"><rect x="-10.1" y="-7.3" width="20.1" height="14.5" fill="#6e6260"/><rect x="-10.1" y="-7.3" width="20.1" height="14.5" fill="url(#g3)" opacity="0.7"/></g><g transform="translate(121.6 261.8) rotate(-40) skewX(-25)" opacity="0.88"><rect x="-10.8" y="-5.1" width="21.6" height="10.1" fill="#857874"/><rect x="-10.8" y="-5.1" width="21.6" height="10.1" fill="url(#g3b)" opacity="0.7"/></g><g transform="translate(157.8 262.8) rotate(28) skewX(-25)" opacity="0.78"><rect x="-8.4" y="-5.7" width="16.9" height="11.5" fill="#7a6e6a"/><rect x="-8.4" y="-5.7" width="16.9" height="11.5" fill="url(#g3)" opacity="0.7"/></g><g transform="translate(204.2 262.5) rotate(-44) skewX(-25)" opacity="0.76"><rect x="-8.3" y="-7.2" width="16.5" height="14.3" fill="#625858"/><rect x="-8.3" y="-7.2" width="16.5" height="14.3" fill="url(#g3)" opacity="0.7"/></g><g transform="translate(219.3 264.7) rotate(25) skewX(-25)" opacity="0.90"><rect x="-9.2" y="-6.7" width="18.4" height="13.3" fill="#625858"/><rect x="-9.2" y="-6.7" width="18.4" height="13.3" fill="url(#g3)" opacity="0.7"/></g><g transform="translate(231.8 260.8) rotate(-48) skewX(-25)" opacity="0.90"><rect x="-10.5" y="-6.2" width="21.0" height="12.3" fill="#706866"/><rect x="-10.5" y="-6.2" width="21.0" height="12.3" fill="url(#g3)" opacity="0.7"/></g><g transform="translate(250.7 263.2) rotate(-40) skewX(-25)" opacity="0.76"><rect x="-9.4" y="-6.4" width="18.8" height="12.8" fill="#7a6e6a"/><rect x="-9.4" y="-6.4" width="18.8" height="12.8" fill="url(#g3)" opacity="0.7"/></g><g transform="translate(262.2 264.7) rotate(1) skewX(-25)" opacity="0.91"><rect x="-8.2" y="-7.2" width="16.4" height="14.5" fill="#6e6260"/><rect x="-8.2" y="-7.2" width="16.4" height="14.5" fill="url(#g3b)" opacity="0.7"/></g><g transform="translate(63.4 275.3) rotate(4) skewX(-25)" opacity="0.78"><rect x="-10.4" y="-5.9" width="20.8" height="11.8" fill="#706866"/><rect x="-10.4" y="-5.9" width="20.8" height="11.8" fill="url(#g3)" opacity="0.7"/></g><g transform="translate(83.1 277.9) rotate(-2) skewX(-25)" opacity="0.84"><rect x="-10.8" y="-6.3" width="21.7" height="12.7" fill="#6e6260"/><rect x="-10.8" y="-6.3" width="21.7" height="12.7" fill="url(#g3)" opacity="0.7"/></g><g transform="translate(97.5 276.6) rotate(-34) skewX(-25)" opacity="0.76"><rect x="-11.0" y="-7.0" width="22.1" height="14.0" fill="#706866"/><rect x="-11.0" y="-7.0" width="22.1" height="14.0" fill="url(#g3b)" opacity="0.7"/></g><g transform="translate(114.0 272.2) rotate(-3) skewX(-25)" opacity="0.75"><rect x="-10.2" y="-6.8" width="20.4" height="13.6" fill="#625858"/><rect x="-10.2" y="-6.8" width="20.4" height="13.6" fill="url(#g3)" opacity="0.7"/></g><g transform="translate(130.0 274.6) rotate(17) skewX(-25)" opacity="0.90"><rect x="-9.5" y="-5.7" width="19.0" height="11.3" fill="#6e6260"/><rect x="-9.5" y="-5.7" width="19.0" height="11.3" fill="url(#g3)" opacity="0.7"/></g><g transform="translate(146.3 276.7) rotate(-27) skewX(-25)" opacity="0.88"><rect x="-8.6" y="-5.4" width="17.1" height="10.7" fill="#625858"/><rect x="-8.6" y="-5.4" width="17.1" height="10.7" fill="url(#g3)" opacity="0.7"/></g><g transform="translate(164.2 276.6) rotate(-9) skewX(-25)" opacity="0.77"><rect x="-9.7" y="-6.6" width="19.5" height="13.3" fill="#625858"/><rect x="-9.7" y="-6.6" width="19.5" height="13.3" fill="url(#g3b)" opacity="0.7"/></g><g transform="translate(179.3 275.6) rotate(-13) skewX(-25)" opacity="0.75"><rect x="-9.5" y="-5.8" width="19.1" height="11.6" fill="#6e6260"/><rect x="-9.5" y="-5.8" width="19.1" height="11.6" fill="url(#g3)" opacity="0.7"/></g><g transform="translate(194.8 272.8) rotate(34) skewX(-25)" opacity="0.80"><rect x="-10.9" y="-6.3" width="21.7" height="12.6" fill="#7a6e6a"/><rect x="-10.9" y="-6.3" width="21.7" height="12.6" fill="url(#g3)" opacity="0.7"/></g><g transform="translate(206.7 275.3) rotate(32) skewX(-25)" opacity="0.77"><rect x="-9.6" y="-7.3" width="19.2" height="14.7" fill="#625858"/><rect x="-9.6" y="-7.3" width="19.2" height="14.7" fill="url(#g3)" opacity="0.7"/></g><g transform="translate(223.9 274.8) rotate(-25) skewX(-25)" opacity="0.75"><rect x="-11.7" y="-5.9" width="23.4" height="11.8" fill="#6e6260"/><rect x="-11.7" y="-5.9" width="23.4" height="11.8" fill="url(#g3)" opacity="0.7"/></g><g transform="translate(255.7 274.3) rotate(-33) skewX(-25)" opacity="0.76"><rect x="-7.7" y="-6.0" width="15.4" height="12.1" fill="#857874"/><rect x="-7.7" y="-6.0" width="15.4" height="12.1" fill="url(#g3)" opacity="0.7"/></g><g transform="translate(73.7 285.9) rotate(6) skewX(-25)" opacity="0.83"><rect x="-9.5" y="-7.5" width="19.0" height="15.0" fill="#7a6e6a"/><rect x="-9.5" y="-7.5" width="19.0" height="15.0" fill="url(#g3b)" opacity="0.7"/></g><g transform="translate(107.7 285.6) rotate(29) skewX(-25)" opacity="0.87"><rect x="-9.1" y="-5.4" width="18.2" height="10.8" fill="#7a6e6a"/><rect x="-9.1" y="-5.4" width="18.2" height="10.8" fill="url(#g3b)" opacity="0.7"/></g><g transform="translate(125.3 284.1) rotate(-48) skewX(-25)" opacity="0.77"><rect x="-8.9" y="-6.0" width="17.9" height="11.9" fill="#625858"/><rect x="-8.9" y="-6.0" width="17.9" height="11.9" fill="url(#g3b)" opacity="0.7"/></g><g transform="translate(139.4 285.8) rotate(-38) skewX(-25)" opacity="0.76"><rect x="-10.2" y="-6.2" width="20.5" height="12.4" fill="#6e6260"/><rect x="-10.2" y="-6.2" width="20.5" height="12.4" fill="url(#g3)" opacity="0.7"/></g><g transform="translate(153.8 288.2) rotate(-27) skewX(-25)" opacity="0.75"><rect x="-9.8" y="-6.4" width="19.7" height="12.7" fill="#857874"/><rect x="-9.8" y="-6.4" width="19.7" height="12.7" fill="url(#g3b)" opacity="0.7"/></g><g transform="translate(168.2 288.3) rotate(23) skewX(-25)" opacity="0.78"><rect x="-9.3" y="-6.0" width="18.6" height="11.9" fill="#6e6260"/><rect x="-9.3" y="-6.0" width="18.6" height="11.9" fill="url(#g3)" opacity="0.7"/></g><g transform="translate(183.7 284.2) rotate(-4) skewX(-25)" opacity="0.90"><rect x="-7.6" y="-6.6" width="15.2" height="13.2" fill="#6e6260"/><rect x="-7.6" y="-6.6" width="15.2" height="13.2" fill="url(#g3b)" opacity="0.7"/></g><g transform="translate(203.5 288.0) rotate(-34) skewX(-25)" opacity="0.88"><rect x="-11.8" y="-7.2" width="23.6" height="14.3" fill="#6e6260"/><rect x="-11.8" y="-7.2" width="23.6" height="14.3" fill="url(#g3b)" opacity="0.7"/></g><g transform="translate(217.9 286.9) rotate(8) skewX(-25)" opacity="0.91"><rect x="-11.7" y="-5.7" width="23.4" height="11.4" fill="#7a6e6a"/><rect x="-11.7" y="-5.7" width="23.4" height="11.4" fill="url(#g3)" opacity="0.7"/></g><g transform="translate(236.1 286.1) rotate(12) skewX(-25)" opacity="0.82"><rect x="-10.7" y="-6.3" width="21.4" height="12.6" fill="#7a6e6a"/><rect x="-10.7" y="-6.3" width="21.4" height="12.6" fill="url(#g3b)" opacity="0.7"/></g><g transform="translate(252.8 285.9) rotate(-44) skewX(-25)" opacity="0.77"><rect x="-11.6" y="-7.3" width="23.2" height="14.5" fill="#857874"/><rect x="-11.6" y="-7.3" width="23.2" height="14.5" fill="url(#g3)" opacity="0.7"/></g><g transform="translate(268.8 285.8) rotate(-48) skewX(-25)" opacity="0.78"><rect x="-10.7" y="-7.2" width="21.5" height="14.4" fill="#625858"/><rect x="-10.7" y="-7.2" width="21.5" height="14.4" fill="url(#g3)" opacity="0.7"/></g><g transform="translate(64.4 300.9) rotate(-20) skewX(-25)" opacity="0.73"><rect x="-11.5" y="-6.6" width="23.0" height="13.2" fill="#625858"/><rect x="-11.5" y="-6.6" width="23.0" height="13.2" fill="url(#g3b)" opacity="0.7"/></g><g transform="translate(79.7 296.5) rotate(0) skewX(-25)" opacity="0.73"><rect x="-7.7" y="-6.4" width="15.4" height="12.7" fill="#625858"/><rect x="-7.7" y="-6.4" width="15.4" height="12.7" fill="url(#g3)" opacity="0.7"/></g><g transform="translate(97.6 301.8) rotate(7) skewX(-25)" opacity="0.82"><rect x="-9.2" y="-7.0" width="18.5" height="14.0" fill="#625858"/><rect x="-9.2" y="-7.0" width="18.5" height="14.0" fill="url(#g3b)" opacity="0.7"/></g><g transform="translate(110.2 299.6) rotate(-35) skewX(-25)" opacity="0.92"><rect x="-8.7" y="-5.6" width="17.4" height="11.3" fill="#706866"/><rect x="-8.7" y="-5.6" width="17.4" height="11.3" fill="url(#g3)" opacity="0.7"/></g><g transform="translate(144.5 300.3) rotate(32) skewX(-25)" opacity="0.79"><rect x="-10.6" y="-6.7" width="21.3" height="13.4" fill="#7a6e6a"/><rect x="-10.6" y="-6.7" width="21.3" height="13.4" fill="url(#g3)" opacity="0.7"/></g><g transform="translate(164.4 297.8) rotate(5) skewX(-25)" opacity="0.85"><rect x="-9.4" y="-5.9" width="18.7" height="11.8" fill="#7a6e6a"/><rect x="-9.4" y="-5.9" width="18.7" height="11.8" fill="url(#g3b)" opacity="0.7"/></g><g transform="translate(179.6 301.5) rotate(34) skewX(-25)" opacity="0.74"><rect x="-10.8" y="-7.2" width="21.6" height="14.4" fill="#625858"/><rect x="-10.8" y="-7.2" width="21.6" height="14.4" fill="url(#g3)" opacity="0.7"/></g><g transform="translate(196.2 298.9) rotate(23) skewX(-25)" opacity="0.77"><rect x="-8.2" y="-7.2" width="16.5" height="14.3" fill="#625858"/><rect x="-8.2" y="-7.2" width="16.5" height="14.3" fill="url(#g3)" opacity="0.7"/></g><g transform="translate(212.4 298.4) rotate(9) skewX(-25)" opacity="0.79"><rect x="-10.7" y="-5.6" width="21.4" height="11.3" fill="#7a6e6a"/><rect x="-10.7" y="-5.6" width="21.4" height="11.3" fill="url(#g3b)" opacity="0.7"/></g><g transform="translate(228.7 301.0) rotate(9) skewX(-25)" opacity="0.75"><rect x="-10.1" y="-6.1" width="20.1" height="12.1" fill="#7a6e6a"/><rect x="-10.1" y="-6.1" width="20.1" height="12.1" fill="url(#g3b)" opacity="0.7"/></g><g transform="translate(243.4 297.4) rotate(-2) skewX(-25)" opacity="0.86"><rect x="-8.3" y="-5.0" width="16.7" height="10.1" fill="#625858"/><rect x="-8.3" y="-5.0" width="16.7" height="10.1" fill="url(#g3)" opacity="0.7"/></g><g transform="translate(259.1 298.4) rotate(-51) skewX(-25)" opacity="0.76"><rect x="-11.7" y="-7.5" width="23.4" height="14.9" fill="#6e6260"/><rect x="-11.7" y="-7.5" width="23.4" height="14.9" fill="url(#g3)" opacity="0.7"/></g><g transform="translate(74.3 312.8) rotate(20) skewX(-25)" opacity="0.79"><rect x="-9.3" y="-7.3" width="18.6" height="14.5" fill="#7a6e6a"/><rect x="-9.3" y="-7.3" width="18.6" height="14.5" fill="url(#g3b)" opacity="0.7"/></g><g transform="translate(92.4 313.0) rotate(1) skewX(-25)" opacity="0.80"><rect x="-8.8" y="-6.0" width="17.6" height="12.0" fill="#706866"/><rect x="-8.8" y="-6.0" width="17.6" height="12.0" fill="url(#g3)" opacity="0.7"/></g><g transform="translate(106.4 312.8) rotate(-45) skewX(-25)" opacity="0.81"><rect x="-8.2" y="-5.4" width="16.3" height="10.9" fill="#857874"/><rect x="-8.2" y="-5.4" width="16.3" height="10.9" fill="url(#g3b)" opacity="0.7"/></g><g transform="translate(125.1 309.6) rotate(-19) skewX(-25)" opacity="0.74"><rect x="-10.1" y="-5.7" width="20.1" height="11.4" fill="#7a6e6a"/><rect x="-10.1" y="-5.7" width="20.1" height="11.4" fill="url(#g3b)" opacity="0.7"/></g><g transform="translate(138.4 311.4) rotate(13) skewX(-25)" opacity="0.76"><rect x="-8.2" y="-5.0" width="16.4" height="10.0" fill="#6e6260"/><rect x="-8.2" y="-5.0" width="16.4" height="10.0" fill="url(#g3)" opacity="0.7"/></g><g transform="translate(158.0 309.2) rotate(-18) skewX(-25)" opacity="0.73"><rect x="-11.4" y="-6.2" width="22.8" height="12.4" fill="#706866"/><rect x="-11.4" y="-6.2" width="22.8" height="12.4" fill="url(#g3b)" opacity="0.7"/></g><g transform="translate(171.3 311.7) rotate(23) skewX(-25)" opacity="0.89"><rect x="-8.7" y="-7.3" width="17.5" height="14.7" fill="#706866"/><rect x="-8.7" y="-7.3" width="17.5" height="14.7" fill="url(#g3b)" opacity="0.7"/></g><g transform="translate(183.4 308.2) rotate(-48) skewX(-25)" opacity="0.87"><rect x="-8.3" y="-5.3" width="16.5" height="10.6" fill="#6e6260"/><rect x="-8.3" y="-5.3" width="16.5" height="10.6" fill="url(#g3b)" opacity="0.7"/></g><g transform="translate(202.1 308.1) rotate(-54) skewX(-25)" opacity="0.88"><rect x="-8.4" y="-7.4" width="16.9" height="14.8" fill="#7a6e6a"/><rect x="-8.4" y="-7.4" width="16.9" height="14.8" fill="url(#g3b)" opacity="0.7"/></g><g transform="translate(217.2 312.8) rotate(34) skewX(-25)" opacity="0.80"><rect x="-11.2" y="-6.9" width="22.4" height="13.8" fill="#857874"/><rect x="-11.2" y="-6.9" width="22.4" height="13.8" fill="url(#g3)" opacity="0.7"/></g><g transform="translate(232.0 313.5) rotate(-35) skewX(-25)" opacity="0.82"><rect x="-7.6" y="-6.4" width="15.2" height="12.9" fill="#625858"/><rect x="-7.6" y="-6.4" width="15.2" height="12.9" fill="url(#g3b)" opacity="0.7"/></g><g transform="translate(253.9 311.8) rotate(-49) skewX(-25)" opacity="0.74"><rect x="-9.5" y="-5.8" width="19.0" height="11.6" fill="#706866"/><rect x="-9.5" y="-5.8" width="19.0" height="11.6" fill="url(#g3b)" opacity="0.7"/></g><g transform="translate(267.9 309.3) rotate(6) skewX(-25)" opacity="0.74"><rect x="-10.8" y="-6.4" width="21.7" height="12.7" fill="#625858"/><rect x="-10.8" y="-6.4" width="21.7" height="12.7" fill="url(#g3)" opacity="0.7"/></g>
<circle cx="139.4" cy="219.6" r="1.0" fill="#6a6a6a"/><circle cx="80.3" cy="169.2" r="1.2" fill="#b0b0b0"/><circle cx="220.8" cy="158.1" r="1.0" fill="#8a8a8a"/><circle cx="219.3" cy="171.3" r="1.0" fill="#c02828"/><circle cx="260.6" cy="187.9" r="1.2" fill="#3a4fa0"/><circle cx="245.8" cy="276.9" r="1.1" fill="#6a6a6a"/><circle cx="257.6" cy="203.3" r="1.2" fill="#8a8a8a"/><circle cx="174.0" cy="156.5" r="1.1" fill="#5a5a5a"/><circle cx="144.9" cy="251.6" r="1.1" fill="#8a8a8a"/><circle cx="138.2" cy="220.9" r="1.1" fill="#5a5a5a"/><circle cx="170.0" cy="240.2" r="0.9" fill="#6a6a6a"/><circle cx="216.3" cy="266.6" r="1.1" fill="#3a4fa0"/><circle cx="153.0" cy="212.7" r="1.0" fill="#8a8a8a"/><circle cx="177.2" cy="161.4" r="1.1" fill="#6a6a6a"/><circle cx="159.4" cy="197.6" r="1.1" fill="#6a6a6a"/><circle cx="254.5" cy="177.8" r="1.0" fill="#3a4fa0"/><circle cx="120.7" cy="248.4" r="1.2" fill="#8a8a8a"/><circle cx="265.9" cy="215.3" r="1.2" fill="#8a8a8a"/><circle cx="247.7" cy="171.7" r="1.2" fill="#8a8a8a"/><circle cx="198.5" cy="295.7" r="1.2" fill="#6a6a6a"/><circle cx="171.3" cy="304.1" r="0.9" fill="#6a6a6a"/><circle cx="77.6" cy="206.4" r="1.2" fill="#b0b0b0"/><circle cx="159.9" cy="235.4" r="0.9" fill="#3a4fa0"/><circle cx="125.4" cy="251.6" r="0.9" fill="#6a6a6a"/><circle cx="157.2" cy="268.6" r="0.8" fill="#8a8a8a"/><circle cx="168.3" cy="163.4" r="1.3" fill="#b0b0b0"/><circle cx="83.0" cy="296.2" r="0.9" fill="#c02828"/><circle cx="136.1" cy="294.3" r="1.2" fill="#8a8a8a"/><circle cx="93.2" cy="182.3" r="0.8" fill="#3a4fa0"/><circle cx="205.0" cy="224.9" r="0.8" fill="#3a4fa0"/><circle cx="265.6" cy="186.0" r="1.0" fill="#5a5a5a"/><circle cx="259.5" cy="300.5" r="1.1" fill="#b0b0b0"/><circle cx="155.3" cy="157.3" r="1.1" fill="#c02828"/><circle cx="237.2" cy="296.9" r="1.1" fill="#5a5a5a"/><circle cx="207.6" cy="182.1" r="0.9" fill="#8a8a8a"/><circle cx="184.9" cy="161.2" r="0.9" fill="#c02828"/><circle cx="256.3" cy="246.5" r="1.0" fill="#c02828"/><circle cx="71.6" cy="165.4" r="1.2" fill="#8a8a8a"/><circle cx="141.3" cy="201.5" r="0.9" fill="#3a4fa0"/><circle cx="84.1" cy="194.9" r="1.2" fill="#c02828"/><circle cx="151.0" cy="223.5" r="0.9" fill="#b0b0b0"/><circle cx="88.8" cy="232.1" r="0.9" fill="#3a4fa0"/><circle cx="184.7" cy="197.7" r="1.3" fill="#c02828"/><circle cx="85.5" cy="252.3" r="1.3" fill="#8a8a8a"/><circle cx="146.8" cy="266.5" r="0.9" fill="#b0b0b0"/><circle cx="196.7" cy="210.1" r="0.9" fill="#c02828"/><circle cx="157.3" cy="298.2" r="1.1" fill="#c02828"/><circle cx="72.5" cy="246.6" r="1.0" fill="#6a6a6a"/><circle cx="96.2" cy="289.3" r="1.0" fill="#c02828"/><circle cx="125.1" cy="170.3" r="0.9" fill="#b0b0b0"/><circle cx="200.2" cy="223.0" r="0.8" fill="#8a8a8a"/><circle cx="142.0" cy="211.2" r="1.1" fill="#5a5a5a"/><circle cx="208.1" cy="303.5" r="1.1" fill="#6a6a6a"/><circle cx="100.8" cy="165.9" r="1.0" fill="#8a8a8a"/><circle cx="132.6" cy="255.6" r="0.8" fill="#b0b0b0"/><circle cx="114.0" cy="158.1" r="1.0" fill="#3a4fa0"/><circle cx="115.5" cy="236.2" r="1.3" fill="#6a6a6a"/><circle cx="83.2" cy="224.3" r="1.2" fill="#3a4fa0"/><circle cx="254.5" cy="232.7" r="0.9" fill="#b0b0b0"/><circle cx="143.2" cy="176.4" r="0.8" fill="#3a4fa0"/><circle cx="227.3" cy="155.5" r="1.1" fill="#5a5a5a"/><circle cx="225.7" cy="290.9" r="1.2" fill="#5a5a5a"/><circle cx="214.7" cy="271.4" r="1.0" fill="#6a6a6a"/><circle cx="100.8" cy="210.6" r="1.3" fill="#c02828"/><circle cx="247.4" cy="158.6" r="1.0" fill="#c02828"/><circle cx="181.1" cy="301.2" r="1.0" fill="#6a6a6a"/><circle cx="170.4" cy="173.7" r="0.9" fill="#b0b0b0"/><circle cx="201.2" cy="231.5" r="0.9" fill="#c02828"/><circle cx="223.9" cy="192.0" r="1.0" fill="#3a4fa0"/><circle cx="266.0" cy="243.3" r="1.1" fill="#8a8a8a"/><circle cx="161.0" cy="282.6" r="1.2" fill="#6a6a6a"/><circle cx="169.7" cy="176.6" r="1.1" fill="#b0b0b0"/><circle cx="150.5" cy="246.8" r="1.3" fill="#5a5a5a"/><circle cx="151.8" cy="156.6" r="1.2" fill="#8a8a8a"/><circle cx="91.7" cy="265.6" r="0.9" fill="#3a4fa0"/><circle cx="175.2" cy="159.3" r="1.0" fill="#6a6a6a"/><circle cx="250.6" cy="236.5" r="1.0" fill="#6a6a6a"/><circle cx="129.3" cy="187.2" r="0.9" fill="#b0b0b0"/><circle cx="251.9" cy="204.3" r="0.9" fill="#3a4fa0"/><circle cx="266.7" cy="239.0" r="1.1" fill="#8a8a8a"/><circle cx="169.2" cy="290.6" r="1.1" fill="#3a4fa0"/><circle cx="122.9" cy="245.0" r="1.0" fill="#8a8a8a"/><circle cx="155.0" cy="226.5" r="1.1" fill="#c02828"/><circle cx="136.1" cy="172.5" r="1.2" fill="#c02828"/><circle cx="82.2" cy="234.2" r="1.0" fill="#b0b0b0"/><circle cx="232.1" cy="256.3" r="1.0" fill="#5a5a5a"/><circle cx="132.3" cy="227.6" r="1.1" fill="#8a8a8a"/><circle cx="174.3" cy="265.0" r="1.0" fill="#c02828"/><circle cx="261.3" cy="156.1" r="1.0" fill="#b0b0b0"/><circle cx="118.8" cy="299.5" r="1.0" fill="#5a5a5a"/><circle cx="129.6" cy="246.4" r="0.8" fill="#b0b0b0"/><circle cx="106.4" cy="172.7" r="0.8" fill="#c02828"/><circle cx="88.4" cy="192.8" r="1.2" fill="#c02828"/><circle cx="256.9" cy="252.1" r="1.0" fill="#c02828"/><circle cx="126.6" cy="257.0" r="1.0" fill="#6a6a6a"/><circle cx="114.6" cy="192.5" r="1.0" fill="#6a6a6a"/><circle cx="232.2" cy="273.2" r="0.9" fill="#5a5a5a"/><circle cx="267.9" cy="228.5" r="1.1" fill="#3a4fa0"/><circle cx="179.3" cy="294.1" r="1.2" fill="#5a5a5a"/><circle cx="192.2" cy="257.4" r="1.1" fill="#8a8a8a"/><circle cx="71.1" cy="265.5" r="1.0" fill="#3a4fa0"/><circle cx="193.8" cy="292.0" r="0.9" fill="#6a6a6a"/><circle cx="86.5" cy="257.8" r="1.0" fill="#8a8a8a"/><circle cx="158.6" cy="220.5" r="1.0" fill="#6a6a6a"/><circle cx="247.7" cy="264.2" r="1.3" fill="#6a6a6a"/><circle cx="140.5" cy="279.7" r="0.9" fill="#5a5a5a"/><circle cx="93.4" cy="201.5" r="1.1" fill="#5a5a5a"/><circle cx="252.6" cy="186.7" r="1.0" fill="#3a4fa0"/><circle cx="97.7" cy="297.1" r="1.2" fill="#8a8a8a"/><circle cx="163.5" cy="159.7" r="1.3" fill="#3a4fa0"/><circle cx="109.7" cy="260.4" r="1.0" fill="#3a4fa0"/><circle cx="206.5" cy="213.2" r="0.9" fill="#3a4fa0"/><circle cx="217.0" cy="180.0" r="1.0" fill="#b0b0b0"/><circle cx="72.9" cy="278.5" r="1.0" fill="#5a5a5a"/><circle cx="187.1" cy="233.0" r="1.0" fill="#3a4fa0"/><circle cx="186.6" cy="224.3" r="0.9" fill="#b0b0b0"/><circle cx="209.4" cy="214.5" r="1.1" fill="#6a6a6a"/><circle cx="116.2" cy="194.2" r="1.0" fill="#5a5a5a"/><circle cx="78.9" cy="293.3" r="1.0" fill="#c02828"/><circle cx="211.9" cy="219.9" r="0.8" fill="#b0b0b0"/><circle cx="105.6" cy="217.1" r="1.0" fill="#b0b0b0"/><circle cx="166.4" cy="189.7" r="0.9" fill="#b0b0b0"/><circle cx="130.7" cy="282.1" r="1.3" fill="#6a6a6a"/><circle cx="139.7" cy="178.9" r="1.0" fill="#3a4fa0"/><circle cx="100.0" cy="297.6" r="1.2" fill="#c02828"/><circle cx="89.3" cy="272.6" r="1.3" fill="#8a8a8a"/><circle cx="240.5" cy="265.6" r="0.9" fill="#c02828"/><circle cx="221.4" cy="242.4" r="1.1" fill="#c02828"/><circle cx="142.1" cy="297.7" r="1.2" fill="#5a5a5a"/><circle cx="190.4" cy="279.6" r="0.9" fill="#c02828"/><circle cx="140.9" cy="180.9" r="1.1" fill="#c02828"/><circle cx="126.7" cy="239.1" r="1.0" fill="#c02828"/><circle cx="124.0" cy="197.8" r="1.3" fill="#c02828"/><circle cx="100.1" cy="213.4" r="1.2" fill="#b0b0b0"/><circle cx="190.7" cy="236.6" r="0.9" fill="#5a5a5a"/><circle cx="218.6" cy="260.4" r="1.2" fill="#b0b0b0"/><circle cx="121.5" cy="163.1" r="1.1" fill="#c02828"/><circle cx="177.4" cy="227.2" r="1.0" fill="#5a5a5a"/><circle cx="214.4" cy="296.5" r="0.9" fill="#b0b0b0"/><circle cx="213.9" cy="287.8" r="1.3" fill="#6a6a6a"/><circle cx="91.8" cy="296.1" r="1.2" fill="#5a5a5a"/><circle cx="129.9" cy="155.4" r="1.3" fill="#b0b0b0"/><circle cx="108.7" cy="210.1" r="1.2" fill="#c02828"/><circle cx="82.2" cy="255.0" r="0.9" fill="#6a6a6a"/><circle cx="151.8" cy="176.4" r="1.3" fill="#5a5a5a"/><circle cx="263.0" cy="293.0" r="0.8" fill="#b0b0b0"/><circle cx="174.3" cy="182.7" r="1.1" fill="#b0b0b0"/><circle cx="191.3" cy="293.8" r="0.9" fill="#5a5a5a"/><circle cx="97.6" cy="183.9" r="1.0" fill="#5a5a5a"/><circle cx="180.4" cy="300.9" r="0.8" fill="#b0b0b0"/><circle cx="248.1" cy="193.4" r="1.2" fill="#8a8a8a"/><circle cx="255.9" cy="301.4" r="1.2" fill="#8a8a8a"/><circle cx="255.1" cy="158.0" r="1.2" fill="#3a4fa0"/><circle cx="267.3" cy="240.7" r="1.0" fill="#b0b0b0"/><circle cx="103.6" cy="270.4" r="1.3" fill="#8a8a8a"/><circle cx="76.3" cy="171.8" r="1.3" fill="#c02828"/><circle cx="74.8" cy="159.8" r="1.1" fill="#8a8a8a"/><circle cx="172.9" cy="242.0" r="1.2" fill="#5a5a5a"/><circle cx="70.1" cy="165.2" r="1.3" fill="#8a8a8a"/><circle cx="235.0" cy="216.1" r="0.9" fill="#c02828"/>
</g>
<circle cx="356.8" cy="234.6" r="96" fill="#fbdfc4"/>
<g clip-path="url(#c1)">
<path d="M310.3 178.1L351.2 175.7L368 209.4L375.3 235.8L327.2 243L303.1 231Z" fill="url(#g1b)"/>
<path d="M262 264.7L286.3 255.1L346.4 252.7L368 264.7L375.3 303.2L363.3 335L262 335Z" fill="url(#g1)"/>
<path d="M363.3 245.5L428.2 207L447.4 216.6L453 274.3L428.2 298.4L387.3 269.5Z" fill="url(#g1c)"/>
<path d="M258 190L286.3 190.1L286.3 245.5L258 245.5Z" fill="url(#g1)"/>
<path d="M280 152L312 142L318 172L290 185Z" fill="url(#g1c)"/>
<g opacity="1.0"><path d="M292.0 152.0L295.8 154.6M292.0 152.0L289.4 155.8M295.8 154.6L299.9 152.7M295.8 154.6L293.8 150.5M299.9 152.7L304.1 154.6M299.9 152.7L298.0 156.9M304.1 154.6L308.1 152.4M304.1 154.6L301.9 150.6M308.1 152.4L311.7 155.3M311.7 155.3L315.7 153.0M311.7 155.3L309.4 151.4M315.7 153.0L319.7 155.3M319.7 155.3L323.5 152.8M319.7 155.3L317.2 151.4M323.5 152.8L327.6 154.9M327.6 154.9L331.9 153.2M331.9 153.2L335.6 155.9M335.6 155.9L340.0 154.4" stroke="#8a8a8a" stroke-width="1.30"/><circle cx="292.0" cy="152.0" r="2.2" fill="url(#cball)"/><circle cx="289.4" cy="155.8" r="2.2" fill="url(#oball)"/><circle cx="286.1" cy="157.4" r="1.5" fill="url(#hball)"/><circle cx="295.8" cy="154.6" r="2.2" fill="url(#cball)"/><circle cx="293.8" cy="150.5" r="2.2" fill="url(#cball)"/><circle cx="299.9" cy="152.7" r="2.2" fill="url(#cball)"/><circle cx="298.0" cy="156.9" r="2.2" fill="url(#cball)"/><circle cx="295.0" cy="159.0" r="1.5" fill="url(#hball)"/><circle cx="304.1" cy="154.6" r="2.2" fill="url(#cball)"/><circle cx="301.9" cy="150.6" r="2.2" fill="url(#cball)"/><circle cx="301.9" cy="146.9" r="1.5" fill="url(#hball)"/><circle cx="308.1" cy="152.4" r="2.2" fill="url(#cball)"/><circle cx="306.0" cy="155.1" r="1.5" fill="url(#hball)"/><circle cx="311.7" cy="155.3" r="2.2" fill="url(#cball)"/><circle cx="309.4" cy="151.4" r="2.2" fill="url(#oball)"/><circle cx="309.2" cy="147.7" r="1.5" fill="url(#hball)"/><circle cx="315.7" cy="153.0" r="2.2" fill="url(#cball)"/><circle cx="313.9" cy="155.9" r="1.5" fill="url(#hball)"/><circle cx="319.7" cy="155.3" r="2.2" fill="url(#cball)"/><circle cx="317.2" cy="151.4" r="2.2" fill="url(#cball)"/><circle cx="323.5" cy="152.8" r="2.2" fill="url(#cball)"/><circle cx="321.9" cy="155.8" r="1.5" fill="url(#hball)"/><circle cx="327.6" cy="154.9" r="2.2" fill="url(#cball)"/><circle cx="326.3" cy="151.7" r="1.5" fill="url(#hball)"/><circle cx="331.9" cy="153.2" r="2.2" fill="url(#cball)"/><circle cx="329.9" cy="156.1" r="1.5" fill="url(#hball)"/><circle cx="335.6" cy="155.9" r="2.2" fill="url(#cball)"/><circle cx="334.5" cy="152.6" r="1.5" fill="url(#hball)"/><circle cx="340.0" cy="154.4" r="2.2" fill="url(#cball)"/></g>
<g opacity="1.0"><path d="M300.0 170.0L304.3 171.6M304.3 171.6L308.3 169.3M304.3 171.6L302.1 167.6M308.3 169.3L312.6 171.1M312.6 171.1L316.6 168.9M312.6 171.1L310.4 167.1M316.6 168.9L320.5 171.4M316.6 168.9L314.1 172.7M320.5 171.4L324.8 169.9M324.8 169.9L328.3 172.9M324.8 169.9L321.8 173.4M328.3 172.9L332.8 172.1M332.8 172.1L335.9 175.5" stroke="#8a8a8a" stroke-width="1.30"/><circle cx="300.0" cy="170.0" r="2.2" fill="url(#cball)"/><circle cx="298.8" cy="173.2" r="1.5" fill="url(#hball)"/><circle cx="304.3" cy="171.6" r="2.2" fill="url(#cball)"/><circle cx="302.1" cy="167.6" r="2.2" fill="url(#oball)"/><circle cx="302.0" cy="163.9" r="1.5" fill="url(#hball)"/><circle cx="308.3" cy="169.3" r="2.2" fill="url(#cball)"/><circle cx="307.0" cy="172.5" r="1.5" fill="url(#hball)"/><circle cx="312.6" cy="171.1" r="2.2" fill="url(#cball)"/><circle cx="310.4" cy="167.1" r="2.2" fill="url(#nball)"/><circle cx="310.4" cy="163.4" r="1.5" fill="url(#hball)"/><circle cx="316.6" cy="168.9" r="2.2" fill="url(#cball)"/><circle cx="314.1" cy="172.7" r="2.2" fill="url(#cball)"/><circle cx="310.8" cy="174.5" r="1.5" fill="url(#hball)"/><circle cx="320.5" cy="171.4" r="2.2" fill="url(#cball)"/><circle cx="319.3" cy="168.2" r="1.5" fill="url(#hball)"/><circle cx="324.8" cy="169.9" r="2.2" fill="url(#cball)"/><circle cx="321.8" cy="173.4" r="2.2" fill="url(#cball)"/><circle cx="318.3" cy="174.7" r="1.5" fill="url(#hball)"/><circle cx="328.3" cy="172.9" r="2.2" fill="url(#cball)"/><circle cx="327.7" cy="169.5" r="1.5" fill="url(#hball)"/><circle cx="332.8" cy="172.1" r="2.2" fill="url(#cball)"/><circle cx="330.3" cy="174.5" r="1.5" fill="url(#hball)"/><circle cx="335.9" cy="175.5" r="2.2" fill="url(#cball)"/></g>
<g opacity="1.0"><path d="M338.0 150.0L341.0 153.5M338.0 150.0L334.5 153.0M341.0 153.5L345.5 152.9M345.5 152.9L348.9 156.0M345.5 152.9L342.4 156.3M348.9 156.0L353.1 154.1M353.1 154.1L356.9 156.7M356.9 156.7L361.0 154.8M361.0 154.8L365.2 156.8M365.2 156.8L369.3 154.8M369.3 154.8L372.8 157.8M372.8 157.8L376.8 155.5M376.8 155.5L380.7 158.0M376.8 155.5L374.4 159.4M380.7 158.0L384.6 155.5" stroke="#8a8a8a" stroke-width="1.30"/><circle cx="338.0" cy="150.0" r="2.2" fill="url(#cball)"/><circle cx="334.5" cy="153.0" r="2.2" fill="url(#nball)"/><circle cx="330.9" cy="153.7" r="1.5" fill="url(#hball)"/><circle cx="341.0" cy="153.5" r="2.2" fill="url(#cball)"/><circle cx="340.5" cy="150.1" r="1.5" fill="url(#hball)"/><circle cx="345.5" cy="152.9" r="2.2" fill="url(#cball)"/><circle cx="342.4" cy="156.3" r="2.2" fill="url(#cball)"/><circle cx="339.0" cy="157.6" r="1.5" fill="url(#hball)"/><circle cx="348.9" cy="156.0" r="2.2" fill="url(#cball)"/><circle cx="347.5" cy="152.9" r="1.5" fill="url(#hball)"/><circle cx="353.1" cy="154.1" r="2.2" fill="url(#cball)"/><circle cx="351.1" cy="156.9" r="1.5" fill="url(#hball)"/><circle cx="356.9" cy="156.7" r="2.2" fill="url(#cball)"/><circle cx="355.4" cy="153.6" r="1.5" fill="url(#hball)"/><circle cx="361.0" cy="154.8" r="2.2" fill="url(#cball)"/><circle cx="359.5" cy="157.9" r="1.5" fill="url(#hball)"/><circle cx="365.2" cy="156.8" r="2.2" fill="url(#cball)"/><circle cx="363.7" cy="153.7" r="1.5" fill="url(#hball)"/><circle cx="369.3" cy="154.8" r="2.2" fill="url(#cball)"/><circle cx="367.1" cy="157.4" r="1.5" fill="url(#hball)"/><circle cx="372.8" cy="157.8" r="2.2" fill="url(#cball)"/><circle cx="371.1" cy="154.8" r="1.5" fill="url(#hball)"/><circle cx="376.8" cy="155.5" r="2.2" fill="url(#cball)"/><circle cx="374.4" cy="159.4" r="2.2" fill="url(#oball)"/><circle cx="380.7" cy="158.0" r="2.2" fill="url(#cball)"/><circle cx="378.8" cy="155.1" r="1.5" fill="url(#hball)"/><circle cx="384.6" cy="155.5" r="2.2" fill="url(#cball)"/></g>
<g opacity="1.0"><path d="M372.0 148.0L373.9 152.2M372.0 148.0L367.8 149.9M373.9 152.2L378.5 152.5M373.9 152.2L374.3 147.6M378.5 152.5L379.8 157.0M379.8 157.0L384.1 158.6M379.8 157.0L381.4 152.7M384.1 158.6L385.4 163.0M384.1 158.6L379.7 159.9M385.4 163.0L390.0 163.1M390.0 163.1L392.6 166.9M390.0 163.1L386.2 165.7M392.6 166.9L397.2 166.9M397.2 166.9L398.9 171.1M398.9 171.1L403.5 170.9M403.5 170.9L405.7 175.0M405.7 175.0L410.3 174.5M405.7 175.0L405.2 170.4" stroke="#8a8a8a" stroke-width="1.30"/><circle cx="372.0" cy="148.0" r="2.2" fill="url(#cball)"/><circle cx="367.8" cy="149.9" r="2.2" fill="url(#oball)"/><circle cx="373.9" cy="152.2" r="2.2" fill="url(#cball)"/><circle cx="374.3" cy="147.6" r="2.2" fill="url(#oball)"/><circle cx="376.3" cy="144.5" r="1.5" fill="url(#hball)"/><circle cx="378.5" cy="152.5" r="2.2" fill="url(#cball)"/><circle cx="375.2" cy="153.4" r="1.5" fill="url(#hball)"/><circle cx="379.8" cy="157.0" r="2.2" fill="url(#cball)"/><circle cx="381.4" cy="152.7" r="2.2" fill="url(#cball)"/><circle cx="384.2" cy="150.3" r="1.5" fill="url(#hball)"/><circle cx="384.1" cy="158.6" r="2.2" fill="url(#cball)"/><circle cx="379.7" cy="159.9" r="2.2" fill="url(#nball)"/><circle cx="385.4" cy="163.0" r="2.2" fill="url(#cball)"/><circle cx="385.5" cy="159.6" r="1.5" fill="url(#hball)"/><circle cx="390.0" cy="163.1" r="2.2" fill="url(#cball)"/><circle cx="386.2" cy="165.7" r="2.2" fill="url(#nball)"/><circle cx="382.5" cy="166.1" r="1.5" fill="url(#hball)"/><circle cx="392.6" cy="166.9" r="2.2" fill="url(#cball)"/><circle cx="392.5" cy="163.5" r="1.5" fill="url(#hball)"/><circle cx="397.2" cy="166.9" r="2.2" fill="url(#cball)"/><circle cx="394.0" cy="168.2" r="1.5" fill="url(#hball)"/><circle cx="398.9" cy="171.1" r="2.2" fill="url(#cball)"/><circle cx="398.8" cy="167.7" r="1.5" fill="url(#hball)"/><circle cx="403.5" cy="170.9" r="2.2" fill="url(#cball)"/><circle cx="400.5" cy="172.5" r="1.5" fill="url(#hball)"/><circle cx="405.7" cy="175.0" r="2.2" fill="url(#cball)"/><circle cx="405.2" cy="170.4" r="2.2" fill="url(#oball)"/><circle cx="410.3" cy="174.5" r="2.2" fill="url(#cball)"/></g>
<g opacity="1.0"><path d="M392.0 175.0L393.6 179.3M393.6 179.3L398.0 180.6M398.0 180.6L398.3 185.2M398.3 185.2L402.0 187.9M398.3 185.2L401.0 181.5M402.0 187.9L401.9 192.5M402.0 187.9L397.4 187.9M401.9 192.5L405.9 194.8M401.9 192.5L404.2 188.5M405.9 194.8L406.9 199.3M405.9 194.8L401.4 195.7M406.9 199.3L411.0 201.4M406.9 199.3L409.0 195.2M411.0 201.4L411.0 206.0M411.0 201.4L406.4 201.4M411.0 206.0L415.4 207.4" stroke="#8a8a8a" stroke-width="1.30"/><circle cx="392.0" cy="175.0" r="2.2" fill="url(#cball)"/><circle cx="388.8" cy="176.2" r="1.5" fill="url(#hball)"/><circle cx="393.6" cy="179.3" r="2.2" fill="url(#cball)"/><circle cx="394.5" cy="176.0" r="1.5" fill="url(#hball)"/><circle cx="398.0" cy="180.6" r="2.2" fill="url(#cball)"/><circle cx="394.6" cy="180.8" r="1.5" fill="url(#hball)"/><circle cx="398.3" cy="185.2" r="2.2" fill="url(#cball)"/><circle cx="401.0" cy="181.5" r="2.2" fill="url(#cball)"/><circle cx="402.0" cy="187.9" r="2.2" fill="url(#cball)"/><circle cx="397.4" cy="187.9" r="2.2" fill="url(#nball)"/><circle cx="394.2" cy="186.1" r="1.5" fill="url(#hball)"/><circle cx="401.9" cy="192.5" r="2.2" fill="url(#cball)"/><circle cx="404.2" cy="188.5" r="2.2" fill="url(#oball)"/><circle cx="407.4" cy="186.6" r="1.5" fill="url(#hball)"/><circle cx="405.9" cy="194.8" r="2.2" fill="url(#cball)"/><circle cx="401.4" cy="195.7" r="2.2" fill="url(#cball)"/><circle cx="397.9" cy="194.7" r="1.5" fill="url(#hball)"/><circle cx="406.9" cy="199.3" r="2.2" fill="url(#cball)"/><circle cx="409.0" cy="195.2" r="2.2" fill="url(#oball)"/><circle cx="412.0" cy="193.1" r="1.5" fill="url(#hball)"/><circle cx="411.0" cy="201.4" r="2.2" fill="url(#cball)"/><circle cx="406.4" cy="201.4" r="2.2" fill="url(#oball)"/><circle cx="411.0" cy="206.0" r="2.2" fill="url(#cball)"/><circle cx="412.1" cy="202.7" r="1.5" fill="url(#hball)"/><circle cx="415.4" cy="207.4" r="2.2" fill="url(#cball)"/></g>
<g opacity="1.0"><path d="M405.0 160.0L405.4 164.6M405.4 164.6L409.3 167.1M405.4 164.6L407.9 160.7M409.3 167.1L409.7 171.6M409.7 171.6L413.5 174.3M413.5 174.3L413.4 178.9M413.5 174.3L408.9 174.2M413.4 178.9L417.1 181.7M413.4 178.9L416.1 175.2M417.1 181.7L416.5 186.2M416.5 186.2L420.4 188.7M420.4 188.7L419.8 193.2M419.8 193.2L423.7 195.7M419.8 193.2L422.3 189.4" stroke="#8a8a8a" stroke-width="1.30"/><circle cx="405.0" cy="160.0" r="2.2" fill="url(#cball)"/><circle cx="401.6" cy="160.3" r="1.5" fill="url(#hball)"/><circle cx="405.4" cy="164.6" r="2.2" fill="url(#cball)"/><circle cx="407.9" cy="160.7" r="2.2" fill="url(#cball)"/><circle cx="411.1" cy="158.9" r="1.5" fill="url(#hball)"/><circle cx="409.3" cy="167.1" r="2.2" fill="url(#cball)"/><circle cx="405.8" cy="167.4" r="1.5" fill="url(#hball)"/><circle cx="409.7" cy="171.6" r="2.2" fill="url(#cball)"/><circle cx="411.7" cy="168.8" r="1.5" fill="url(#hball)"/><circle cx="413.5" cy="174.3" r="2.2" fill="url(#cball)"/><circle cx="408.9" cy="174.2" r="2.2" fill="url(#cball)"/><circle cx="413.4" cy="178.9" r="2.2" fill="url(#cball)"/><circle cx="416.1" cy="175.2" r="2.2" fill="url(#oball)"/><circle cx="419.5" cy="173.7" r="1.5" fill="url(#hball)"/><circle cx="417.1" cy="181.7" r="2.2" fill="url(#cball)"/><circle cx="413.7" cy="181.2" r="1.5" fill="url(#hball)"/><circle cx="416.5" cy="186.2" r="2.2" fill="url(#cball)"/><circle cx="418.3" cy="183.3" r="1.5" fill="url(#hball)"/><circle cx="420.4" cy="188.7" r="2.2" fill="url(#cball)"/><circle cx="416.9" cy="188.3" r="1.5" fill="url(#hball)"/><circle cx="419.8" cy="193.2" r="2.2" fill="url(#cball)"/><circle cx="422.3" cy="189.4" r="2.2" fill="url(#cball)"/><circle cx="423.7" cy="195.7" r="2.2" fill="url(#cball)"/></g>
<g opacity="1.0"><path d="M282.0 205.0L282.0 209.6M282.0 205.0L277.4 205.0M282.0 209.6L286.3 211.1M286.3 211.1L288.0 215.4M288.0 215.4L292.3 216.9M288.0 215.4L289.5 211.1M292.3 216.9L294.0 221.2M292.3 216.9L288.0 218.6M294.0 221.2L298.5 222.1M298.5 222.1L299.8 226.5" stroke="#8a8a8a" stroke-width="1.30"/><circle cx="282.0" cy="205.0" r="2.2" fill="url(#cball)"/><circle cx="277.4" cy="205.0" r="2.2" fill="url(#nball)"/><circle cx="274.2" cy="203.2" r="1.5" fill="url(#hball)"/><circle cx="282.0" cy="209.6" r="2.2" fill="url(#cball)"/><circle cx="283.1" cy="206.3" r="1.5" fill="url(#hball)"/><circle cx="286.3" cy="211.1" r="2.2" fill="url(#cball)"/><circle cx="283.1" cy="212.3" r="1.5" fill="url(#hball)"/><circle cx="288.0" cy="215.4" r="2.2" fill="url(#cball)"/><circle cx="289.5" cy="211.1" r="2.2" fill="url(#oball)"/><circle cx="292.2" cy="208.6" r="1.5" fill="url(#hball)"/><circle cx="292.3" cy="216.9" r="2.2" fill="url(#cball)"/><circle cx="288.0" cy="218.6" r="2.2" fill="url(#cball)"/><circle cx="284.4" cy="218.1" r="1.5" fill="url(#hball)"/><circle cx="294.0" cy="221.2" r="2.2" fill="url(#cball)"/><circle cx="294.6" cy="217.8" r="1.5" fill="url(#hball)"/><circle cx="298.5" cy="222.1" r="2.2" fill="url(#cball)"/><circle cx="295.2" cy="223.0" r="1.5" fill="url(#hball)"/><circle cx="299.8" cy="226.5" r="2.2" fill="url(#cball)"/></g>
<g opacity="1.0"><path d="M266.0 232.0L268.3 236.0M266.0 232.0L262.0 234.3M268.3 236.0L272.9 236.4M268.3 236.0L268.7 231.4M272.9 236.4L274.8 240.5M272.9 236.4L268.7 238.3M274.8 240.5L279.4 240.9M274.8 240.5L275.1 236.0M279.4 240.9L281.6 244.9M279.4 240.9L275.4 243.1M281.6 244.9L286.2 245.1M281.6 244.9L281.8 240.3" stroke="#8a8a8a" stroke-width="1.30"/><circle cx="266.0" cy="232.0" r="2.2" fill="url(#cball)"/><circle cx="262.0" cy="234.3" r="2.2" fill="url(#cball)"/><circle cx="258.3" cy="234.4" r="1.5" fill="url(#hball)"/><circle cx="268.3" cy="236.0" r="2.2" fill="url(#cball)"/><circle cx="268.7" cy="231.4" r="2.2" fill="url(#nball)"/><circle cx="272.9" cy="236.4" r="2.2" fill="url(#cball)"/><circle cx="268.7" cy="238.3" r="2.2" fill="url(#oball)"/><circle cx="265.0" cy="238.1" r="1.5" fill="url(#hball)"/><circle cx="274.8" cy="240.5" r="2.2" fill="url(#cball)"/><circle cx="275.1" cy="236.0" r="2.2" fill="url(#nball)"/><circle cx="279.4" cy="240.9" r="2.2" fill="url(#cball)"/><circle cx="275.4" cy="243.1" r="2.2" fill="url(#oball)"/><circle cx="281.6" cy="244.9" r="2.2" fill="url(#cball)"/><circle cx="281.8" cy="240.3" r="2.2" fill="url(#cball)"/><circle cx="286.2" cy="245.1" r="2.2" fill="url(#cball)"/></g>
<g opacity="1.0"><path d="M380.0 290.0L384.6 290.0M380.0 290.0L380.0 294.6M384.6 290.0L386.4 285.7M386.4 285.7L390.9 284.8M386.4 285.7L387.3 290.3M390.9 284.8L393.1 280.8M393.1 280.8L397.7 281.2M393.1 280.8L392.7 285.4M397.7 281.2L400.2 277.3M397.7 281.2L393.8 278.7M400.2 277.3L404.8 277.5M404.8 277.5L407.4 273.8M407.4 273.8L412.0 273.9" stroke="#8a8a8a" stroke-width="1.30"/><circle cx="380.0" cy="290.0" r="2.2" fill="url(#cball)"/><circle cx="380.0" cy="294.6" r="2.2" fill="url(#cball)"/><circle cx="378.2" cy="297.8" r="1.5" fill="url(#hball)"/><circle cx="384.6" cy="290.0" r="2.2" fill="url(#cball)"/><circle cx="381.4" cy="288.7" r="1.5" fill="url(#hball)"/><circle cx="386.4" cy="285.7" r="2.2" fill="url(#cball)"/><circle cx="387.3" cy="290.3" r="2.2" fill="url(#oball)"/><circle cx="386.2" cy="293.8" r="1.5" fill="url(#hball)"/><circle cx="390.9" cy="284.8" r="2.2" fill="url(#cball)"/><circle cx="387.9" cy="283.2" r="1.5" fill="url(#hball)"/><circle cx="393.1" cy="280.8" r="2.2" fill="url(#cball)"/><circle cx="392.7" cy="285.4" r="2.2" fill="url(#cball)"/><circle cx="397.7" cy="281.2" r="2.2" fill="url(#cball)"/><circle cx="393.8" cy="278.7" r="2.2" fill="url(#oball)"/><circle cx="392.0" cy="275.5" r="1.5" fill="url(#hball)"/><circle cx="400.2" cy="277.3" r="2.2" fill="url(#cball)"/><circle cx="400.0" cy="280.8" r="1.5" fill="url(#hball)"/><circle cx="404.8" cy="277.5" r="2.2" fill="url(#cball)"/><circle cx="401.9" cy="275.6" r="1.5" fill="url(#hball)"/><circle cx="407.4" cy="273.8" r="2.2" fill="url(#cball)"/><circle cx="407.3" cy="277.2" r="1.5" fill="url(#hball)"/><circle cx="412.0" cy="273.9" r="2.2" fill="url(#cball)"/></g>
<g opacity="1.0"><path d="M372.0 305.0L376.5 305.8M376.5 305.8L379.4 302.2M379.4 302.2L384.0 302.3M384.0 302.3L386.9 298.7M386.9 298.7L391.5 298.8M391.5 298.8L393.5 294.7M391.5 298.8L387.4 296.7M393.5 294.7L398.1 295.1M398.1 295.1L400.6 291.2M398.1 295.1L394.2 292.6" stroke="#8a8a8a" stroke-width="1.30"/><circle cx="372.0" cy="305.0" r="2.2" fill="url(#cball)"/><circle cx="371.4" cy="308.4" r="1.5" fill="url(#hball)"/><circle cx="376.5" cy="305.8" r="2.2" fill="url(#cball)"/><circle cx="373.8" cy="303.7" r="1.5" fill="url(#hball)"/><circle cx="379.4" cy="302.2" r="2.2" fill="url(#cball)"/><circle cx="379.3" cy="305.6" r="1.5" fill="url(#hball)"/><circle cx="384.0" cy="302.3" r="2.2" fill="url(#cball)"/><circle cx="381.3" cy="300.1" r="1.5" fill="url(#hball)"/><circle cx="386.9" cy="298.7" r="2.2" fill="url(#cball)"/><circle cx="386.8" cy="302.2" r="1.5" fill="url(#hball)"/><circle cx="391.5" cy="298.8" r="2.2" fill="url(#cball)"/><circle cx="387.4" cy="296.7" r="2.2" fill="url(#cball)"/><circle cx="385.3" cy="293.7" r="1.5" fill="url(#hball)"/><circle cx="393.5" cy="294.7" r="2.2" fill="url(#cball)"/><circle cx="393.2" cy="298.1" r="1.5" fill="url(#hball)"/><circle cx="398.1" cy="295.1" r="2.2" fill="url(#cball)"/><circle cx="394.2" cy="292.6" r="2.2" fill="url(#cball)"/><circle cx="392.5" cy="289.4" r="1.5" fill="url(#hball)"/><circle cx="400.6" cy="291.2" r="2.2" fill="url(#cball)"/></g>
<g opacity="1.0"><path d="M268.0 258.0L271.5 261.0M268.0 258.0L265.0 261.5M271.5 261.0L276.0 260.0M271.5 261.0L270.6 256.4M276.0 260.0L278.6 263.8M276.0 260.0L272.2 262.6M278.6 263.8L283.2 263.6M283.2 263.6L285.5 267.5M285.5 267.5L290.1 267.3M285.5 267.5L285.3 262.9" stroke="#8a8a8a" stroke-width="1.30"/><circle cx="268.0" cy="258.0" r="2.2" fill="url(#cball)"/><circle cx="265.0" cy="261.5" r="2.2" fill="url(#cball)"/><circle cx="261.6" cy="262.9" r="1.5" fill="url(#hball)"/><circle cx="271.5" cy="261.0" r="2.2" fill="url(#cball)"/><circle cx="270.6" cy="256.4" r="2.2" fill="url(#cball)"/><circle cx="271.7" cy="252.9" r="1.5" fill="url(#hball)"/><circle cx="276.0" cy="260.0" r="2.2" fill="url(#cball)"/><circle cx="272.2" cy="262.6" r="2.2" fill="url(#cball)"/><circle cx="268.6" cy="263.0" r="1.5" fill="url(#hball)"/><circle cx="278.6" cy="263.8" r="2.2" fill="url(#cball)"/><circle cx="278.4" cy="260.4" r="1.5" fill="url(#hball)"/><circle cx="283.2" cy="263.6" r="2.2" fill="url(#cball)"/><circle cx="280.2" cy="265.3" r="1.5" fill="url(#hball)"/><circle cx="285.5" cy="267.5" r="2.2" fill="url(#cball)"/><circle cx="285.3" cy="262.9" r="2.2" fill="url(#nball)"/><circle cx="286.9" cy="259.6" r="1.5" fill="url(#hball)"/><circle cx="290.1" cy="267.3" r="2.2" fill="url(#cball)"/></g>
<g opacity="1.0"><path d="M345.0 235.0L349.3 236.6M345.0 235.0L343.4 239.3M349.3 236.6L352.2 233.0M349.3 236.6L345.7 233.7M352.2 233.0L356.7 233.5M356.7 233.5L359.1 229.6M356.7 233.5L352.8 231.2M359.1 229.6L363.7 229.4M359.1 229.6L359.3 234.2M363.7 229.4L366.3 225.6M363.7 229.4L359.9 226.7" stroke="#8a8a8a" stroke-width="1.30"/><circle cx="345.0" cy="235.0" r="2.2" fill="url(#cball)"/><circle cx="343.4" cy="239.3" r="2.2" fill="url(#cball)"/><circle cx="340.7" cy="241.8" r="1.5" fill="url(#hball)"/><circle cx="349.3" cy="236.6" r="2.2" fill="url(#cball)"/><circle cx="345.7" cy="233.7" r="2.2" fill="url(#cball)"/><circle cx="344.3" cy="230.3" r="1.5" fill="url(#hball)"/><circle cx="352.2" cy="233.0" r="2.2" fill="url(#cball)"/><circle cx="351.7" cy="236.4" r="1.5" fill="url(#hball)"/><circle cx="356.7" cy="233.5" r="2.2" fill="url(#cball)"/><circle cx="352.8" cy="231.2" r="2.2" fill="url(#nball)"/><circle cx="359.1" cy="229.6" r="2.2" fill="url(#cball)"/><circle cx="359.3" cy="234.2" r="2.2" fill="url(#nball)"/><circle cx="357.7" cy="237.5" r="1.5" fill="url(#hball)"/><circle cx="363.7" cy="229.4" r="2.2" fill="url(#cball)"/><circle cx="359.9" cy="226.7" r="2.2" fill="url(#cball)"/><circle cx="358.3" cy="223.4" r="1.5" fill="url(#hball)"/><circle cx="366.3" cy="225.6" r="2.2" fill="url(#cball)"/></g>
</g>
<circle cx="356.8" cy="234.6" r="96" fill="none" stroke="#e0606a" stroke-width="1.4"/>
<circle cx="574.2" cy="234.8" r="107" fill="url(#glow)"/>
<circle cx="574.2" cy="234.8" r="96" fill="#fbdfc4"/>
<g clip-path="url(#c2)">
<path d="M494 168.5L525.3 149.2L542.2 175.7L549.4 209.4L527.7 209.4L491.7 209.4Z" fill="url(#g2)"/>
<path d="M537.4 156.5L561.4 139.6L619.1 139.6L624 158.9L566.2 190.1L554.2 190.1Z" fill="url(#g2b)"/>
<path d="M535 202.2L566.2 190.1L604.7 202.2L604.7 233.4L571 243.1L537.4 240.7Z" fill="url(#g2c)"/>
<path d="M604.7 163.7L638.4 168.5L662.4 199.8L667.3 231L638.4 240.7L604.7 233.4Z" fill="url(#g2d)"/>
<path d="M478 209.4L535 202.2L537.4 240.7L527.7 264.7L478 264.7Z" fill="url(#g2e)"/>
<path d="M515.7 264.7L537.4 240.7L571 243.1L614.3 264.7L619.1 298.4L585.5 335L518.1 335L510.9 298.4Z" fill="url(#g2f)"/>
<path d="M614.3 245.5L638.4 240.7L672 231L672 274.3L638.4 312.8L619.1 298.4L614.3 264.7Z" fill="url(#g2g)"/>
<path d="M478 140L537 140L525.3 149.2L494 168.5L478 175Z" fill="url(#g2b)"/>
<path d="M590 300L640 312L660 300L672 290L672 340L600 340Z" fill="url(#g2)"/>
<path d="M535 202.2L566.2 190.1L604.7 202.2L604.7 233.4L571 243.1L537.4 240.7Z" fill="url(#g2h)" opacity="0.5"/>
<path d="M604.7 163.7L638.4 168.5L662.4 199.8L667.3 231L638.4 240.7L604.7 233.4Z" fill="url(#g2h)" opacity="0.5"/>
<path d="M618 150L672 150L672 214L660 200Z" fill="#f4f4f2"/>
</g>
<circle cx="574.2" cy="234.8" r="96" fill="none" stroke="#e0303a" stroke-width="1.6"/>
<path d="M441.3 220.7H467.8V210L488 230.5L467.8 249.6V238.3H441.3Z" fill="#ec1c24"/>
<g filter="url(#molsh)">
<g opacity="1.0"><path d="M533.0 72.0L535.1 75.0M533.0 72.0L530.0 74.1M535.1 75.0L538.8 74.7M535.1 75.0L534.8 71.4M538.8 74.7L540.9 77.7M540.9 77.7L544.5 76.9M540.9 77.7L540.2 74.1M544.5 76.9L547.0 79.6M544.5 76.9L541.8 79.5" stroke="#8a8a8a" stroke-width="1.04"/><circle cx="533.0" cy="72.0" r="1.8" fill="url(#cball)"/><circle cx="530.0" cy="74.1" r="1.8" fill="url(#cball)"/><circle cx="527.1" cy="74.4" r="1.2" fill="url(#hball)"/><circle cx="535.1" cy="75.0" r="1.8" fill="url(#cball)"/><circle cx="534.8" cy="71.4" r="1.8" fill="url(#cball)"/><circle cx="538.8" cy="74.7" r="1.8" fill="url(#cball)"/><circle cx="536.5" cy="76.3" r="1.2" fill="url(#hball)"/><circle cx="540.9" cy="77.7" r="1.8" fill="url(#cball)"/><circle cx="540.2" cy="74.1" r="1.8" fill="url(#cball)"/><circle cx="544.5" cy="76.9" r="1.8" fill="url(#cball)"/><circle cx="541.8" cy="79.5" r="1.8" fill="url(#nball)"/><circle cx="547.0" cy="79.6" r="1.8" fill="url(#cball)"/></g>
<g opacity="1.0"><path d="M545.0 64.0L544.4 67.6M544.4 67.6L547.5 69.5M544.4 67.6L546.3 64.5M547.5 69.5L548.0 73.2M548.0 73.2L551.5 74.4M551.5 74.4L552.6 77.9M552.6 77.9L556.3 78.4" stroke="#8a8a8a" stroke-width="1.04"/><circle cx="545.0" cy="64.0" r="1.8" fill="url(#cball)"/><circle cx="542.3" cy="63.5" r="1.2" fill="url(#hball)"/><circle cx="544.4" cy="67.6" r="1.8" fill="url(#cball)"/><circle cx="546.3" cy="64.5" r="1.8" fill="url(#cball)"/><circle cx="548.8" cy="63.0" r="1.2" fill="url(#hball)"/><circle cx="547.5" cy="69.5" r="1.8" fill="url(#cball)"/><circle cx="544.8" cy="69.9" r="1.2" fill="url(#hball)"/><circle cx="548.0" cy="73.2" r="1.8" fill="url(#cball)"/><circle cx="548.9" cy="70.6" r="1.2" fill="url(#hball)"/><circle cx="551.5" cy="74.4" r="1.8" fill="url(#cball)"/><circle cx="548.9" cy="75.2" r="1.2" fill="url(#hball)"/><circle cx="552.6" cy="77.9" r="1.8" fill="url(#cball)"/><circle cx="553.0" cy="75.1" r="1.2" fill="url(#hball)"/><circle cx="556.3" cy="78.4" r="1.8" fill="url(#cball)"/></g>
<g opacity="1.0"><path d="M532.0 95.0L535.6 95.6M535.6 95.6L538.5 93.3M538.5 93.3L542.1 94.0M542.1 94.0L544.4 91.1M544.4 91.1L548.1 91.1M544.4 91.1L544.4 94.8" stroke="#8a8a8a" stroke-width="1.04"/><circle cx="532.0" cy="95.0" r="1.8" fill="url(#cball)"/><circle cx="531.5" cy="97.7" r="1.2" fill="url(#hball)"/><circle cx="535.6" cy="95.6" r="1.8" fill="url(#cball)"/><circle cx="533.9" cy="93.5" r="1.2" fill="url(#hball)"/><circle cx="538.5" cy="93.3" r="1.8" fill="url(#cball)"/><circle cx="538.0" cy="96.0" r="1.2" fill="url(#hball)"/><circle cx="542.1" cy="94.0" r="1.8" fill="url(#cball)"/><circle cx="539.9" cy="92.3" r="1.2" fill="url(#hball)"/><circle cx="544.4" cy="91.1" r="1.8" fill="url(#cball)"/><circle cx="544.4" cy="94.8" r="1.8" fill="url(#cball)"/><circle cx="543.0" cy="97.4" r="1.2" fill="url(#hball)"/><circle cx="548.1" cy="91.1" r="1.8" fill="url(#cball)"/></g>
<g opacity="1.0"><path d="M552.0 86.0L553.3 89.5M553.3 89.5L556.8 90.6M553.3 89.5L554.4 86.0M556.8 90.6L557.3 94.3M556.8 90.6L553.1 91.1M557.3 94.3L560.8 95.3" stroke="#8a8a8a" stroke-width="1.04"/><circle cx="552.0" cy="86.0" r="1.8" fill="url(#cball)"/><circle cx="549.4" cy="86.9" r="1.2" fill="url(#hball)"/><circle cx="553.3" cy="89.5" r="1.8" fill="url(#cball)"/><circle cx="554.4" cy="86.0" r="1.8" fill="url(#nball)"/><circle cx="556.6" cy="83.9" r="1.2" fill="url(#hball)"/><circle cx="556.8" cy="90.6" r="1.8" fill="url(#cball)"/><circle cx="553.1" cy="91.1" r="1.8" fill="url(#nball)"/><circle cx="557.3" cy="94.3" r="1.8" fill="url(#cball)"/><circle cx="558.1" cy="91.6" r="1.2" fill="url(#hball)"/><circle cx="560.8" cy="95.3" r="1.8" fill="url(#cball)"/></g>
<g opacity="1.0"><path d="M580.0 95.0L583.7 95.3M580.0 95.0L579.7 98.7M583.7 95.3L586.2 92.7M586.2 92.7L589.9 92.9M589.9 92.9L591.6 89.6M589.9 92.9L586.6 91.2M591.6 89.6L595.2 89.9M595.2 89.9L597.7 87.2M595.2 89.9L592.5 87.5" stroke="#8a8a8a" stroke-width="1.04"/><circle cx="580.0" cy="95.0" r="1.8" fill="url(#cball)"/><circle cx="579.7" cy="98.7" r="1.8" fill="url(#oball)"/><circle cx="578.0" cy="101.1" r="1.2" fill="url(#hball)"/><circle cx="583.7" cy="95.3" r="1.8" fill="url(#cball)"/><circle cx="581.7" cy="93.4" r="1.2" fill="url(#hball)"/><circle cx="586.2" cy="92.7" r="1.8" fill="url(#cball)"/><circle cx="586.1" cy="95.4" r="1.2" fill="url(#hball)"/><circle cx="589.9" cy="92.9" r="1.8" fill="url(#cball)"/><circle cx="586.6" cy="91.2" r="1.8" fill="url(#cball)"/><circle cx="585.0" cy="88.8" r="1.2" fill="url(#hball)"/><circle cx="591.6" cy="89.6" r="1.8" fill="url(#cball)"/><circle cx="591.3" cy="92.3" r="1.2" fill="url(#hball)"/><circle cx="595.2" cy="89.9" r="1.8" fill="url(#cball)"/><circle cx="592.5" cy="87.5" r="1.8" fill="url(#cball)"/><circle cx="597.7" cy="87.2" r="1.8" fill="url(#cball)"/></g>
<g opacity="1.0"><path d="M592.0 86.0L592.0 89.7M592.0 89.7L595.4 91.1M592.0 89.7L593.4 86.3M595.4 91.1L595.2 94.8M595.4 91.1L591.7 90.9M595.2 94.8L597.8 97.4M597.8 97.4L597.0 101.0" stroke="#8a8a8a" stroke-width="1.04"/><circle cx="592.0" cy="86.0" r="1.8" fill="url(#cball)"/><circle cx="589.2" cy="86.0" r="1.2" fill="url(#hball)"/><circle cx="592.0" cy="89.7" r="1.8" fill="url(#cball)"/><circle cx="593.4" cy="86.3" r="1.8" fill="url(#oball)"/><circle cx="595.7" cy="84.5" r="1.2" fill="url(#hball)"/><circle cx="595.4" cy="91.1" r="1.8" fill="url(#cball)"/><circle cx="591.7" cy="90.9" r="1.8" fill="url(#nball)"/><circle cx="589.2" cy="89.3" r="1.2" fill="url(#hball)"/><circle cx="595.2" cy="94.8" r="1.8" fill="url(#cball)"/><circle cx="597.1" cy="92.8" r="1.2" fill="url(#hball)"/><circle cx="597.8" cy="97.4" r="1.8" fill="url(#cball)"/><circle cx="595.1" cy="96.8" r="1.2" fill="url(#hball)"/><circle cx="597.0" cy="101.0" r="1.8" fill="url(#cball)"/></g>
<g opacity="1.0"><path d="M605.0 90.0L608.5 91.3M608.5 91.3L611.5 89.1M611.5 89.1L615.0 90.2M611.5 89.1L610.4 92.6M615.0 90.2L618.0 88.2M615.0 90.2L612.9 87.2" stroke="#8a8a8a" stroke-width="1.04"/><circle cx="605.0" cy="90.0" r="1.8" fill="url(#cball)"/><circle cx="604.1" cy="92.6" r="1.2" fill="url(#hball)"/><circle cx="608.5" cy="91.3" r="1.8" fill="url(#cball)"/><circle cx="606.9" cy="89.0" r="1.2" fill="url(#hball)"/><circle cx="611.5" cy="89.1" r="1.8" fill="url(#cball)"/><circle cx="610.4" cy="92.6" r="1.8" fill="url(#cball)"/><circle cx="608.2" cy="94.7" r="1.2" fill="url(#hball)"/><circle cx="615.0" cy="90.2" r="1.8" fill="url(#cball)"/><circle cx="612.9" cy="87.2" r="1.8" fill="url(#nball)"/><circle cx="618.0" cy="88.2" r="1.8" fill="url(#cball)"/></g>
<g opacity="1.0"><path d="M584.0 108.0L586.8 110.4M584.0 108.0L581.6 110.8M586.8 110.4L590.4 109.4M586.8 110.4L585.9 106.8M590.4 109.4L593.3 111.7M590.4 109.4L588.1 112.3M593.3 111.7L596.4 109.8M593.3 111.7L591.4 108.5M596.4 109.8L599.9 111.0M596.4 109.8L595.2 113.3" stroke="#8a8a8a" stroke-width="1.04"/><circle cx="584.0" cy="108.0" r="1.8" fill="url(#cball)"/><circle cx="581.6" cy="110.8" r="1.8" fill="url(#nball)"/><circle cx="578.9" cy="111.9" r="1.2" fill="url(#hball)"/><circle cx="586.8" cy="110.4" r="1.8" fill="url(#cball)"/><circle cx="585.9" cy="106.8" r="1.8" fill="url(#cball)"/><circle cx="590.4" cy="109.4" r="1.8" fill="url(#cball)"/><circle cx="588.1" cy="112.3" r="1.8" fill="url(#nball)"/><circle cx="593.3" cy="111.7" r="1.8" fill="url(#cball)"/><circle cx="591.4" cy="108.5" r="1.8" fill="url(#oball)"/><circle cx="591.3" cy="105.6" r="1.2" fill="url(#hball)"/><circle cx="596.4" cy="109.8" r="1.8" fill="url(#cball)"/><circle cx="595.2" cy="113.3" r="1.8" fill="url(#cball)"/><circle cx="593.1" cy="115.3" r="1.2" fill="url(#hball)"/><circle cx="599.9" cy="111.0" r="1.8" fill="url(#cball)"/></g>
</g>
<text transform="translate(29.5,43.3) scale(0.8,1)" font-size="47" font-weight="bold" fill="#000">a</text>
<text transform="translate(686.5,44) scale(0.93,1)" font-size="47" font-weight="bold" fill="#000">b</text>
<text transform="translate(1099.5,42.8) scale(0.8,1)" font-size="46" font-weight="bold" fill="#000">c</text>
<text transform="translate(14.5,412.6) scale(0.93,1)" font-size="47" font-weight="bold" fill="#000">d</text>
<text transform="translate(519.5,411.8) scale(0.94,1)" font-size="47" font-weight="bold" fill="#000">e</text>
<text transform="translate(1009.3,410.8) scale(1.0,1)" font-size="47" font-weight="bold" fill="#000">f</text>
</svg>
</body></html>
